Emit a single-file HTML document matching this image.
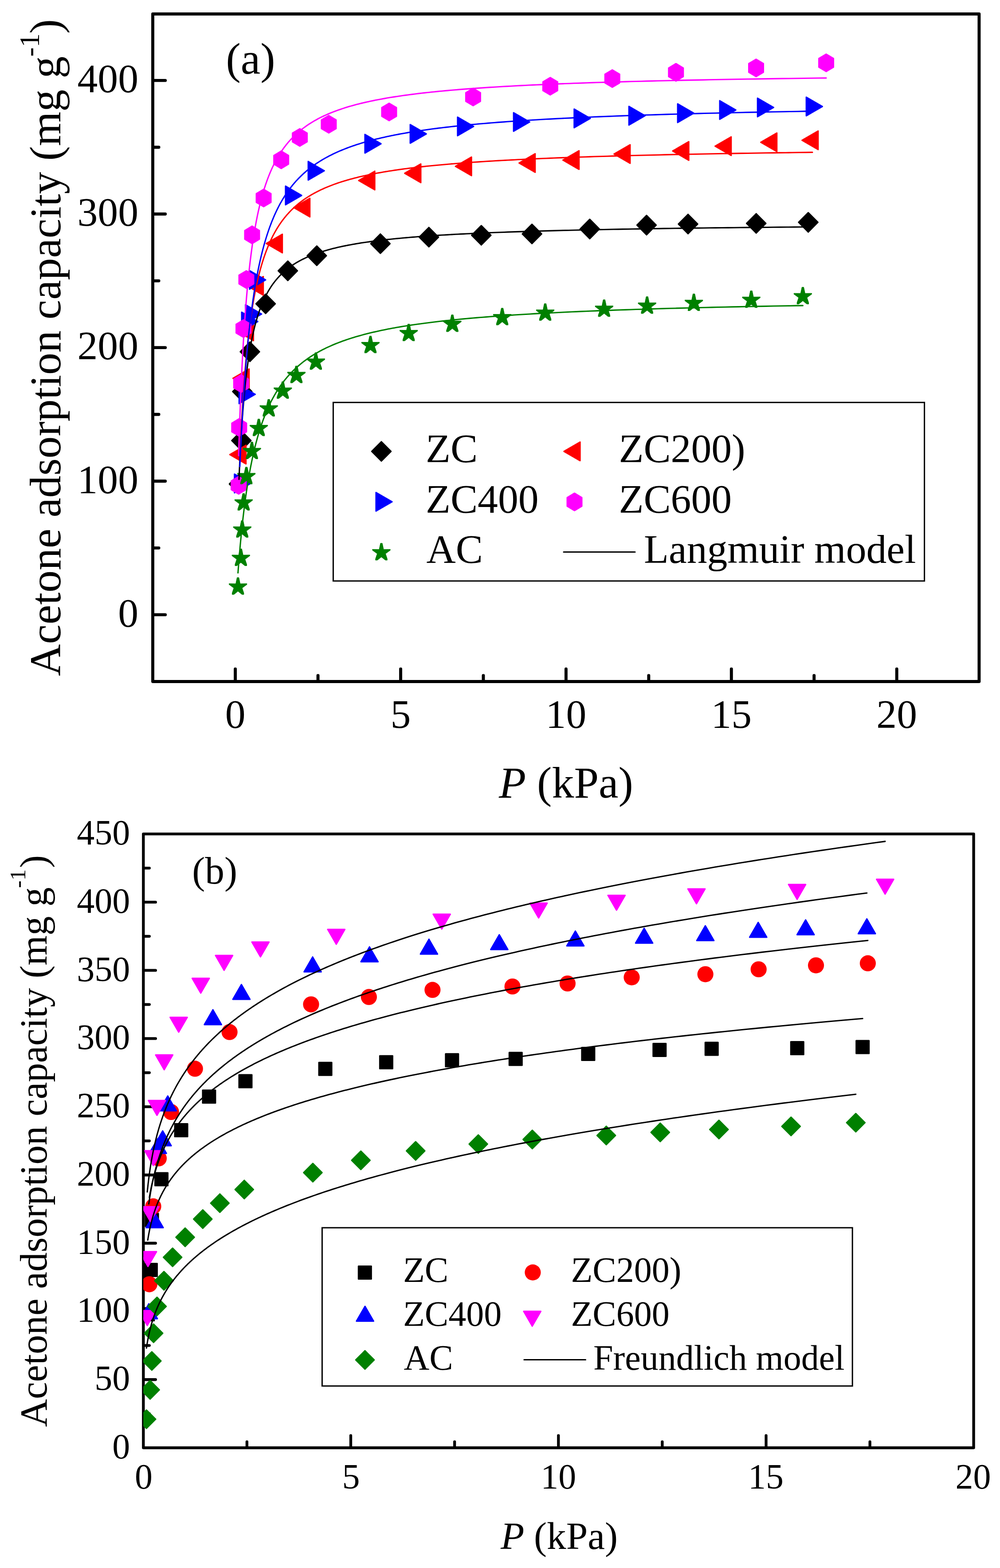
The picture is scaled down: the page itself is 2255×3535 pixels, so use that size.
<!DOCTYPE html>
<html lang="en"><head><meta charset="utf-8"><title>Acetone adsorption isotherms</title>
<style>html,body{margin:0;padding:0;background:#fff;width:2255px;height:3535px;overflow:hidden}svg{display:block}text{font-family:"Liberation Serif",serif;fill:#000}</style>
</head><body>
<svg width="2255" height="3535" viewBox="0 0 2255 3535" role="img" aria-label="Acetone adsorption isotherms with Langmuir (a) and Freundlich (b) model fits">
<rect width="2255" height="3535" fill="#fff"/>
<g id="panel-a">
<g fill="none" stroke="#000" stroke-width="6.9" stroke-linecap="round" stroke-linejoin="round">
<rect x="344.5" y="31.5" width="1863.4" height="1505"/>
<path d="M530.6 1535.5V1508.3M903.5 1535.5V1508.3M1276.4 1535.5V1508.3M1649.3 1535.5V1508.3M2022.2 1535.5V1508.3M717.05 1535.5V1522.9M1089.95 1535.5V1522.9M1462.85 1535.5V1522.9M1835.75 1535.5V1522.9M345.5 1385.9H372.7M345.5 1084.77H372.7M345.5 783.64H372.7M345.5 482.51H372.7M345.5 181.38H372.7M345.5 1235.34H358.1M345.5 934.21H358.1M345.5 633.08H358.1M345.5 331.95H358.1"/>
</g>
<g font-size="91.67">
<text x="530.6" y="1641" text-anchor="middle">0</text>
<text x="903.5" y="1641" text-anchor="middle">5</text>
<text x="1276.4" y="1641" text-anchor="middle">10</text>
<text x="1649.3" y="1641" text-anchor="middle">15</text>
<text x="2022.2" y="1641" text-anchor="middle">20</text>
<text x="312" y="1412.7" text-anchor="end">0</text>
<text x="312" y="1111.57" text-anchor="end">100</text>
<text x="312" y="810.44" text-anchor="end">200</text>
<text x="312" y="509.31" text-anchor="end">300</text>
<text x="312" y="208.18" text-anchor="end">400</text>
</g>
<g id="a-markers">
<g><polygon points="1800.92,501.18 1822.62,479.28 1844.32,501.18 1822.62,523.08" fill="#000000" stroke="#000000" stroke-width="3" stroke-linejoin="round"/><polygon points="1683.54,503.59 1705.24,481.69 1726.94,503.59 1705.24,525.49" fill="#000000" stroke="#000000" stroke-width="3" stroke-linejoin="round"/><polygon points="1529.83,505.09 1551.53,483.19 1573.23,505.09 1551.53,526.99" fill="#000000" stroke="#000000" stroke-width="3" stroke-linejoin="round"/><polygon points="1436.3,507.5 1458,485.6 1479.7,507.5 1458,529.4" fill="#000000" stroke="#000000" stroke-width="3" stroke-linejoin="round"/><polygon points="1308.17,516.24 1329.87,494.34 1351.57,516.24 1329.87,538.14" fill="#000000" stroke="#000000" stroke-width="3" stroke-linejoin="round"/><polygon points="1177.88,527.38 1199.58,505.48 1221.28,527.38 1199.58,549.28" fill="#000000" stroke="#000000" stroke-width="3" stroke-linejoin="round"/><polygon points="1063.63,530.39 1085.33,508.49 1107.03,530.39 1085.33,552.29" fill="#000000" stroke="#000000" stroke-width="3" stroke-linejoin="round"/><polygon points="945.42,534.61 967.12,512.71 988.82,534.61 967.12,556.51" fill="#000000" stroke="#000000" stroke-width="3" stroke-linejoin="round"/><polygon points="836.08,549.36 857.78,527.46 879.48,549.36 857.78,571.26" fill="#000000" stroke="#000000" stroke-width="3" stroke-linejoin="round"/><polygon points="692.67,576.46 714.37,554.56 736.07,576.46 714.37,598.36" fill="#000000" stroke="#000000" stroke-width="3" stroke-linejoin="round"/><polygon points="627.33,610.49 649.03,588.59 670.73,610.49 649.03,632.39" fill="#000000" stroke="#000000" stroke-width="3" stroke-linejoin="round"/><polygon points="577.29,684.87 598.99,662.97 620.69,684.87 598.99,706.77" fill="#000000" stroke="#000000" stroke-width="3" stroke-linejoin="round"/><polygon points="541.79,792.98 563.49,771.08 585.19,792.98 563.49,814.88" fill="#000000" stroke="#000000" stroke-width="3" stroke-linejoin="round"/><polygon points="524.71,882.71 546.41,860.81 568.11,882.71 546.41,904.61" fill="#000000" stroke="#000000" stroke-width="3" stroke-linejoin="round"/><polygon points="522.62,993.23 544.32,971.33 566.02,993.23 544.32,1015.13" fill="#000000" stroke="#000000" stroke-width="3" stroke-linejoin="round"/><polygon points="517.25,1091.09 538.95,1069.19 560.65,1091.09 538.95,1112.99" fill="#000000" stroke="#000000" stroke-width="3" stroke-linejoin="round"/></g>
<g><polygon points="1808.57,316.29 1844.87,295.29 1844.87,337.29" fill="#ff0000" stroke="#ff0000" stroke-width="3" stroke-linejoin="round"/><polygon points="1715.49,320.8 1751.79,299.8 1751.79,341.8" fill="#ff0000" stroke="#ff0000" stroke-width="3" stroke-linejoin="round"/><polygon points="1612.5,329.54 1648.8,308.54 1648.8,350.54" fill="#ff0000" stroke="#ff0000" stroke-width="3" stroke-linejoin="round"/><polygon points="1516.89,340.38 1553.19,319.38 1553.19,361.38" fill="#ff0000" stroke="#ff0000" stroke-width="3" stroke-linejoin="round"/><polygon points="1384.58,347.3 1420.88,326.3 1420.88,368.3" fill="#ff0000" stroke="#ff0000" stroke-width="3" stroke-linejoin="round"/><polygon points="1269.43,360.85 1305.73,339.85 1305.73,381.85" fill="#ff0000" stroke="#ff0000" stroke-width="3" stroke-linejoin="round"/><polygon points="1170.46,367.48 1206.76,346.48 1206.76,388.48" fill="#ff0000" stroke="#ff0000" stroke-width="3" stroke-linejoin="round"/><polygon points="1026.9,375.01 1063.2,354.01 1063.2,396.01" fill="#ff0000" stroke="#ff0000" stroke-width="3" stroke-linejoin="round"/><polygon points="912.64,390.67 948.94,369.67 948.94,411.67" fill="#ff0000" stroke="#ff0000" stroke-width="3" stroke-linejoin="round"/><polygon points="808.82,406.93 845.12,385.93 845.12,427.93" fill="#ff0000" stroke="#ff0000" stroke-width="3" stroke-linejoin="round"/><polygon points="662.42,468.06 698.72,447.06 698.72,489.06" fill="#ff0000" stroke="#ff0000" stroke-width="3" stroke-linejoin="round"/><polygon points="600.37,549.06 636.67,528.06 636.67,570.06" fill="#ff0000" stroke="#ff0000" stroke-width="3" stroke-linejoin="round"/><polygon points="557.41,644.52 593.71,623.52 593.71,665.52" fill="#ff0000" stroke="#ff0000" stroke-width="3" stroke-linejoin="round"/><polygon points="535.26,746.9 571.56,725.9 571.56,767.9" fill="#ff0000" stroke="#ff0000" stroke-width="3" stroke-linejoin="round"/><polygon points="525.42,852.9 561.72,831.9 561.72,873.9" fill="#ff0000" stroke="#ff0000" stroke-width="3" stroke-linejoin="round"/><polygon points="518.41,1024.85 554.71,1003.85 554.71,1045.85" fill="#ff0000" stroke="#ff0000" stroke-width="3" stroke-linejoin="round"/></g>
<g><polygon points="1854.43,240.1 1818.13,219.1 1818.13,261.1" fill="#0000ff" stroke="#0000ff" stroke-width="3" stroke-linejoin="round"/><polygon points="1744.5,242.21 1708.2,221.21 1708.2,263.21" fill="#0000ff" stroke="#0000ff" stroke-width="3" stroke-linejoin="round"/><polygon points="1659.33,247.93 1623.03,226.93 1623.03,268.93" fill="#0000ff" stroke="#0000ff" stroke-width="3" stroke-linejoin="round"/><polygon points="1564.39,255.16 1528.09,234.16 1528.09,276.16" fill="#0000ff" stroke="#0000ff" stroke-width="3" stroke-linejoin="round"/><polygon points="1454.53,260.88 1418.23,239.88 1418.23,281.88" fill="#0000ff" stroke="#0000ff" stroke-width="3" stroke-linejoin="round"/><polygon points="1331.03,266.9 1294.73,245.9 1294.73,287.9" fill="#0000ff" stroke="#0000ff" stroke-width="3" stroke-linejoin="round"/><polygon points="1194.4,275.03 1158.1,254.03 1158.1,296.03" fill="#0000ff" stroke="#0000ff" stroke-width="3" stroke-linejoin="round"/><polygon points="1068.13,284.97 1031.83,263.97 1031.83,305.97" fill="#0000ff" stroke="#0000ff" stroke-width="3" stroke-linejoin="round"/><polygon points="961.34,301.83 925.04,280.83 925.04,322.83" fill="#0000ff" stroke="#0000ff" stroke-width="3" stroke-linejoin="round"/><polygon points="859.24,324.12 822.94,303.12 822.94,345.12" fill="#0000ff" stroke="#0000ff" stroke-width="3" stroke-linejoin="round"/><polygon points="731.33,384.94 695.03,363.94 695.03,405.94" fill="#0000ff" stroke="#0000ff" stroke-width="3" stroke-linejoin="round"/><polygon points="680.17,440.65 643.87,419.65 643.87,461.65" fill="#0000ff" stroke="#0000ff" stroke-width="3" stroke-linejoin="round"/><polygon points="599.03,630.97 562.73,609.97 562.73,651.97" fill="#0000ff" stroke="#0000ff" stroke-width="3" stroke-linejoin="round"/><polygon points="589.93,708.06 553.63,687.06 553.63,729.06" fill="#0000ff" stroke="#0000ff" stroke-width="3" stroke-linejoin="round"/><polygon points="581.28,724.92 544.98,703.92 544.98,745.92" fill="#0000ff" stroke="#0000ff" stroke-width="3" stroke-linejoin="round"/><polygon points="575.53,889.04 539.23,868.04 539.23,910.04" fill="#0000ff" stroke="#0000ff" stroke-width="3" stroke-linejoin="round"/><polygon points="565.02,1089.89 528.72,1068.89 528.72,1110.89" fill="#0000ff" stroke="#0000ff" stroke-width="3" stroke-linejoin="round"/></g>
<g><polygon points="1863.05,122.03 1879.55,131.83 1879.55,151.43 1863.05,161.23 1846.55,151.43 1846.55,131.83" fill="#ff00ff" stroke="#ff00ff" stroke-width="3" stroke-linejoin="round"/><polygon points="1705.01,133.47 1721.51,143.27 1721.51,162.87 1705.01,172.67 1688.51,162.87 1688.51,143.27" fill="#ff00ff" stroke="#ff00ff" stroke-width="3" stroke-linejoin="round"/><polygon points="1524.3,143.41 1540.8,153.21 1540.8,172.81 1524.3,182.61 1507.8,172.81 1507.8,153.21" fill="#ff00ff" stroke="#ff00ff" stroke-width="3" stroke-linejoin="round"/><polygon points="1380.74,157.56 1397.24,167.36 1397.24,186.96 1380.74,196.76 1364.24,186.96 1364.24,167.36" fill="#ff00ff" stroke="#ff00ff" stroke-width="3" stroke-linejoin="round"/><polygon points="1240.83,174.73 1257.33,184.53 1257.33,204.13 1240.83,213.93 1224.33,204.13 1224.33,184.53" fill="#ff00ff" stroke="#ff00ff" stroke-width="3" stroke-linejoin="round"/><polygon points="1066.9,199.12 1083.4,208.92 1083.4,228.52 1066.9,238.32 1050.4,228.52 1050.4,208.92" fill="#ff00ff" stroke="#ff00ff" stroke-width="3" stroke-linejoin="round"/><polygon points="877.47,232.85 893.97,242.65 893.97,262.25 877.47,272.05 860.97,262.25 860.97,242.65" fill="#ff00ff" stroke="#ff00ff" stroke-width="3" stroke-linejoin="round"/><polygon points="741.36,260.55 757.86,270.35 757.86,289.95 741.36,299.75 724.86,289.95 724.86,270.35" fill="#ff00ff" stroke="#ff00ff" stroke-width="3" stroke-linejoin="round"/><polygon points="676.03,290.36 692.53,300.16 692.53,319.76 676.03,329.56 659.53,319.76 659.53,300.16" fill="#ff00ff" stroke="#ff00ff" stroke-width="3" stroke-linejoin="round"/><polygon points="634.12,340.65 650.62,350.45 650.62,370.05 634.12,379.85 617.62,370.05 617.62,350.45" fill="#ff00ff" stroke="#ff00ff" stroke-width="3" stroke-linejoin="round"/><polygon points="594.52,426.77 611.02,436.57 611.02,456.17 594.52,465.97 578.02,456.17 578.02,436.57" fill="#ff00ff" stroke="#ff00ff" stroke-width="3" stroke-linejoin="round"/><polygon points="568.49,509.89 584.99,519.69 584.99,539.29 568.49,549.09 551.99,539.29 551.99,519.69" fill="#ff00ff" stroke="#ff00ff" stroke-width="3" stroke-linejoin="round"/><polygon points="555.51,610.46 572.01,620.26 572.01,639.86 555.51,649.66 539.01,639.86 539.01,620.26" fill="#ff00ff" stroke="#ff00ff" stroke-width="3" stroke-linejoin="round"/><polygon points="549.02,721.28 565.52,731.08 565.52,750.68 549.02,760.48 532.52,750.68 532.52,731.08" fill="#ff00ff" stroke="#ff00ff" stroke-width="3" stroke-linejoin="round"/><polygon points="543.8,845.04 560.3,854.84 560.3,874.44 543.8,884.24 527.3,874.44 527.3,854.84" fill="#ff00ff" stroke="#ff00ff" stroke-width="3" stroke-linejoin="round"/><polygon points="539.33,944.12 555.83,953.92 555.83,973.52 539.33,983.32 522.83,973.52 522.83,953.92" fill="#ff00ff" stroke="#ff00ff" stroke-width="3" stroke-linejoin="round"/><polygon points="538.08,1074.51 554.58,1084.31 554.58,1103.91 538.08,1113.71 521.58,1103.91 521.58,1084.31" fill="#ff00ff" stroke="#ff00ff" stroke-width="3" stroke-linejoin="round"/></g>
<g><polygon points="1808.39,647.42 1812.39,647.42 1815.39,661.43 1830.52,661.19 1830.51,663.15 1819.76,670.98 1823.55,682.26 1823.59,685.53 1819.41,685.48 1810.39,678.28 1801.37,685.48 1797.19,685.53 1797.23,682.26 1801.02,670.98 1790.28,663.15 1790.27,661.19 1805.39,661.43" fill="#008000" stroke="#008000" stroke-width="1" stroke-linejoin="round"/><polygon points="1692.12,655.55 1696.12,655.55 1699.12,669.56 1714.25,669.32 1714.24,671.28 1703.49,679.11 1707.28,690.39 1707.32,693.66 1703.14,693.61 1694.12,686.41 1685.1,693.61 1680.92,693.66 1680.96,690.39 1684.75,679.11 1674.01,671.28 1674,669.32 1689.12,669.56" fill="#008000" stroke="#008000" stroke-width="1" stroke-linejoin="round"/><polygon points="1562.65,662.48 1566.65,662.48 1569.65,676.48 1584.78,676.25 1584.77,678.2 1574.02,686.04 1577.81,697.32 1577.85,700.58 1573.67,700.54 1564.65,693.33 1555.63,700.54 1551.45,700.58 1551.49,697.32 1555.28,686.04 1544.54,678.2 1544.52,676.25 1559.65,676.48" fill="#008000" stroke="#008000" stroke-width="1" stroke-linejoin="round"/><polygon points="1457.19,668.8 1461.2,668.8 1464.2,682.81 1479.32,682.57 1479.31,684.53 1468.57,692.36 1472.35,703.64 1472.39,706.91 1468.22,706.86 1459.2,699.66 1450.18,706.86 1446,706.91 1446.04,703.64 1449.82,692.36 1439.08,684.53 1439.07,682.57 1454.19,682.81" fill="#008000" stroke="#008000" stroke-width="1" stroke-linejoin="round"/><polygon points="1360.31,675.73 1364.32,675.73 1367.32,689.73 1382.44,689.5 1382.43,691.45 1371.69,699.29 1375.48,710.57 1375.51,713.83 1371.34,713.79 1362.32,706.58 1353.3,713.79 1349.12,713.83 1349.16,710.57 1352.94,699.29 1342.2,691.45 1342.19,689.5 1357.32,689.73" fill="#008000" stroke="#008000" stroke-width="1" stroke-linejoin="round"/><polygon points="1227.49,684.46 1231.49,684.46 1234.49,698.47 1249.62,698.23 1249.6,700.19 1238.86,708.02 1242.65,719.3 1242.69,722.57 1238.51,722.52 1229.49,715.32 1220.47,722.52 1216.29,722.57 1216.33,719.3 1220.12,708.02 1209.37,700.19 1209.36,698.23 1224.49,698.47" fill="#008000" stroke="#008000" stroke-width="1" stroke-linejoin="round"/><polygon points="1130.53,694.7 1134.54,694.7 1137.54,708.7 1152.66,708.47 1152.65,710.42 1141.91,718.26 1145.69,729.54 1145.73,732.81 1141.55,732.76 1132.54,725.55 1123.52,732.76 1119.34,732.81 1119.38,729.54 1123.16,718.26 1112.42,710.42 1112.41,708.47 1127.53,708.7" fill="#008000" stroke="#008000" stroke-width="1" stroke-linejoin="round"/><polygon points="1017.99,709.76 1022,709.76 1024.99,723.76 1040.12,723.52 1040.11,725.48 1029.37,733.31 1033.15,744.59 1033.19,747.86 1029.01,747.82 1019.99,740.61 1010.97,747.82 1006.8,747.86 1006.83,744.59 1010.62,733.31 999.88,725.48 999.87,723.52 1014.99,723.76" fill="#008000" stroke="#008000" stroke-width="1" stroke-linejoin="round"/><polygon points="919.62,730.54 923.62,730.54 926.62,744.54 941.75,744.3 941.74,746.26 930.99,754.09 934.78,765.37 934.82,768.64 930.64,768.59 921.62,761.39 912.6,768.59 908.43,768.64 908.46,765.37 912.25,754.09 901.51,746.26 901.5,744.3 916.62,744.54" fill="#008000" stroke="#008000" stroke-width="1" stroke-linejoin="round"/><polygon points="833.41,757.64 837.41,757.64 840.41,771.64 855.54,771.4 855.52,773.36 844.78,781.19 848.57,792.47 848.61,795.74 844.43,795.7 835.41,788.49 826.39,795.7 822.21,795.74 822.25,792.47 826.04,781.19 815.29,773.36 815.28,771.4 830.41,771.64" fill="#008000" stroke="#008000" stroke-width="1" stroke-linejoin="round"/><polygon points="710.28,794.98 714.28,794.98 717.28,808.98 732.4,808.74 732.39,810.7 721.65,818.53 725.44,829.81 725.47,833.08 721.3,833.04 712.28,825.83 703.26,833.04 699.08,833.08 699.12,829.81 702.91,818.53 692.16,810.7 692.15,808.74 707.28,808.98" fill="#008000" stroke="#008000" stroke-width="1" stroke-linejoin="round"/><polygon points="666.42,825.09 670.43,825.09 673.42,839.09 688.55,838.86 688.54,840.81 677.8,848.65 681.58,859.93 681.62,863.19 677.44,863.15 668.42,855.94 659.4,863.15 655.23,863.19 655.26,859.93 659.05,848.65 648.31,840.81 648.3,838.86 663.42,839.09" fill="#008000" stroke="#008000" stroke-width="1" stroke-linejoin="round"/><polygon points="635.77,860.32 639.77,860.32 642.77,874.33 657.9,874.09 657.89,876.05 647.14,883.88 650.93,895.16 650.97,898.43 646.79,898.38 637.77,891.18 628.75,898.38 624.57,898.43 624.61,895.16 628.4,883.88 617.66,876.05 617.64,874.09 632.77,874.33" fill="#008000" stroke="#008000" stroke-width="1" stroke-linejoin="round"/><polygon points="604.07,900.37 608.08,900.37 611.08,914.38 626.2,914.14 626.19,916.1 615.45,923.93 619.23,935.21 619.27,938.48 615.09,938.43 606.07,931.23 597.06,938.43 592.88,938.48 592.92,935.21 596.7,923.93 585.96,916.1 585.95,914.14 601.07,914.38" fill="#008000" stroke="#008000" stroke-width="1" stroke-linejoin="round"/><polygon points="581.55,944.64 585.55,944.64 588.55,958.64 603.68,958.4 603.67,960.36 592.92,968.2 596.71,979.48 596.75,982.74 592.57,982.7 583.55,975.49 574.53,982.7 570.35,982.74 570.39,979.48 574.18,968.2 563.44,960.36 563.42,958.4 578.55,958.64" fill="#008000" stroke="#008000" stroke-width="1" stroke-linejoin="round"/><polygon points="566.04,996.43 570.04,996.43 573.04,1010.44 588.17,1010.2 588.15,1012.16 577.41,1019.99 581.2,1031.27 581.24,1034.54 577.06,1034.49 568.04,1027.29 559.02,1034.49 554.84,1034.54 554.88,1031.27 558.67,1019.99 547.92,1012.16 547.91,1010.2 563.04,1010.44" fill="#008000" stroke="#008000" stroke-width="1" stroke-linejoin="round"/><polygon points="553.58,1053.05 557.59,1053.05 560.59,1067.05 575.71,1066.81 575.7,1068.77 564.96,1076.6 568.74,1087.88 568.78,1091.15 564.6,1091.1 555.58,1083.9 546.56,1091.1 542.39,1091.15 542.43,1087.88 546.21,1076.6 535.47,1068.77 535.46,1066.81 550.58,1067.05" fill="#008000" stroke="#008000" stroke-width="1" stroke-linejoin="round"/><polygon points="547.39,1112.37 551.4,1112.37 554.4,1126.37 569.52,1126.13 569.51,1128.09 558.77,1135.93 562.55,1147.21 562.59,1150.47 558.41,1150.43 549.39,1143.22 540.37,1150.43 536.2,1150.47 536.23,1147.21 540.02,1135.93 529.28,1128.09 529.27,1126.13 544.39,1126.37" fill="#008000" stroke="#008000" stroke-width="1" stroke-linejoin="round"/><polygon points="544.26,1173.5 548.26,1173.5 551.26,1187.5 566.39,1187.26 566.38,1189.22 555.63,1197.05 559.42,1208.33 559.46,1211.6 555.28,1211.56 546.26,1204.35 537.24,1211.56 533.06,1211.6 533.1,1208.33 536.89,1197.05 526.15,1189.22 526.13,1187.26 541.26,1187.5" fill="#008000" stroke="#008000" stroke-width="1" stroke-linejoin="round"/><polygon points="541.2,1237.34 545.21,1237.34 548.2,1251.34 563.33,1251.1 563.32,1253.06 552.58,1260.89 556.36,1272.17 556.4,1275.44 552.22,1275.4 543.2,1268.19 534.18,1275.4 530.01,1275.44 530.04,1272.17 533.83,1260.89 523.09,1253.06 523.08,1251.1 538.2,1251.34" fill="#008000" stroke="#008000" stroke-width="1" stroke-linejoin="round"/><polygon points="534.64,1302.08 538.64,1302.08 541.64,1316.08 556.77,1315.85 556.76,1317.8 546.01,1325.64 549.8,1336.92 549.84,1340.18 545.66,1340.14 536.64,1332.93 527.62,1340.14 523.44,1340.18 523.48,1336.92 527.27,1325.64 516.53,1317.8 516.51,1315.85 531.64,1316.08" fill="#008000" stroke="#008000" stroke-width="1" stroke-linejoin="round"/></g>
</g>
<g id="a-curves">
<polyline fill="none" stroke="#000000" stroke-width="3.1" stroke-linejoin="round" stroke-linecap="round" points="538.95,1080.65 539.06,1078.12 539.17,1075.59 539.27,1073.04 539.38,1070.49 539.5,1067.92 539.61,1065.35 539.72,1062.77 539.84,1060.18 539.96,1057.58 540.07,1054.98 540.2,1052.36 540.32,1049.74 540.44,1047.1 540.56,1044.47 540.69,1041.82 540.82,1039.16 540.95,1036.5 541.08,1033.83 541.21,1031.16 541.35,1028.48 541.48,1025.79 541.62,1023.09 541.76,1020.39 541.9,1017.68 542.05,1014.97 542.19,1012.25 542.34,1009.53 542.49,1006.8 542.64,1004.07 542.79,1001.33 542.95,998.59 543.1,995.84 543.26,993.09 543.42,990.33 543.58,987.57 543.75,984.81 543.92,982.04 544.08,979.28 544.26,976.5 544.43,973.73 544.6,970.95 544.78,968.17 544.96,965.39 545.14,962.61 545.33,959.83 545.52,957.04 545.7,954.26 545.9,951.47 546.09,948.68 546.29,945.89 546.49,943.1 546.69,940.32 546.89,937.53 547.1,934.74 547.31,931.95 547.52,929.17 547.73,926.38 547.95,923.6 548.17,920.81 548.39,918.03 548.62,915.26 548.85,912.48 549.08,909.71 549.31,906.94 549.55,904.17 549.79,901.4 550.03,898.64 550.28,895.88 550.53,893.13 550.78,890.38 551.04,887.63 551.3,884.89 551.56,882.15 551.83,879.42 552.1,876.69 552.37,873.97 552.64,871.25 552.92,868.54 553.21,865.83 553.49,863.13 553.78,860.44 554.08,857.75 554.38,855.07 554.68,852.4 554.98,849.73 555.29,847.07 555.61,844.42 555.92,841.77 556.24,839.13 556.57,836.5 556.9,833.88 557.23,831.27 557.57,828.66 557.91,826.07 558.26,823.48 558.61,820.9 558.96,818.33 559.32,815.77 559.69,813.22 560.06,810.67 560.43,808.14 560.81,805.62 561.19,803.1 561.58,800.6 561.97,798.11 562.37,795.62 562.77,793.15 563.18,790.69 563.6,788.24 564.01,785.8 564.44,783.37 564.87,780.95 565.3,778.54 565.74,776.15 566.19,773.76 566.64,771.39 567.1,769.03 567.56,766.68 568.03,764.34 568.5,762.02 568.98,759.7 569.47,757.4 569.96,755.11 570.46,752.83 570.97,750.57 571.48,748.31 572,746.07 572.52,743.85 573.06,741.63 573.59,739.43 574.14,737.24 574.69,735.06 575.25,732.9 575.82,730.75 576.39,728.61 576.97,726.48 577.56,724.37 578.15,722.27 578.76,720.19 579.37,718.11 579.99,716.05 580.61,714.01 581.25,711.98 581.89,709.96 582.54,707.95 583.2,705.96 583.87,703.98 584.54,702.01 585.23,700.06 585.92,698.12 586.62,696.2 587.33,694.29 588.05,692.39 588.78,690.5 589.52,688.63 590.26,686.77 591.02,684.93 591.79,683.1 592.56,681.28 593.35,679.48 594.15,677.69 594.95,675.91 595.77,674.15 596.59,672.4 597.43,670.66 598.28,668.94 599.14,667.23 600.01,665.54 600.89,663.85 601.78,662.19 602.68,660.53 603.6,658.89 604.52,657.26 605.46,655.64 606.41,654.04 607.37,652.45 608.34,650.87 609.33,649.31 610.33,647.76 611.34,646.22 612.36,644.7 613.4,643.18 614.45,641.69 615.51,640.2 616.59,638.73 617.68,637.27 618.79,635.82 619.9,634.38 621.04,632.96 622.18,631.55 623.35,630.15 624.52,628.77 625.71,627.4 626.92,626.04 628.14,624.69 629.38,623.35 630.63,622.03 631.9,620.72 633.18,619.42 634.49,618.13 635.8,616.85 637.14,615.59 638.49,614.34 639.86,613.09 641.24,611.87 642.65,610.65 644.07,609.44 645.51,608.25 646.96,607.06 648.44,605.89 649.93,604.73 651.45,603.58 652.98,602.44 654.53,601.31 656.1,600.2 657.7,599.09 659.31,598 660.94,596.91 662.59,595.84 664.27,594.78 665.96,593.72 667.68,592.68 669.42,591.65 671.18,590.63 672.96,589.62 674.77,588.61 676.6,587.62 678.45,586.64 680.32,585.67 682.22,584.71 684.15,583.76 686.09,582.82 688.06,581.88 690.06,580.96 692.08,580.05 694.13,579.14 696.21,578.25 698.31,577.36 700.43,576.49 702.59,575.62 704.77,574.76 706.98,573.91 709.22,573.07 711.48,572.24 713.78,571.42 716.1,570.61 718.45,569.8 720.83,569 723.25,568.22 725.69,567.44 728.16,566.66 730.67,565.9 733.21,565.15 735.78,564.4 738.38,563.66 741.01,562.93 743.68,562.21 746.39,561.49 749.12,560.78 751.89,560.08 754.7,559.39 757.54,558.7 760.42,558.03 763.34,557.36 766.29,556.69 769.28,556.04 772.3,555.39 775.37,554.75 778.47,554.12 781.62,553.49 784.8,552.87 788.03,552.25 791.29,551.65 794.6,551.05 797.95,550.46 801.34,549.87 804.77,549.29 808.25,548.72 811.77,548.15 815.34,547.59 818.95,547.03 822.6,546.48 826.31,545.94 830.06,545.41 833.86,544.88 837.7,544.35 841.6,543.83 845.54,543.32 849.54,542.82 853.58,542.32 857.68,541.82 861.83,541.33 866.03,540.85 870.28,540.37 874.59,539.9 878.95,539.43 883.37,538.97 887.84,538.51 892.38,538.06 896.96,537.61 901.61,537.17 906.32,536.74 911.08,536.3 915.91,535.88 920.79,535.46 925.74,535.04 930.75,534.63 935.83,534.22 940.97,533.82 946.17,533.42 951.45,533.03 956.78,532.64 962.19,532.26 967.66,531.88 973.21,531.5 978.82,531.13 984.5,530.77 990.26,530.41 996.09,530.05 1001.99,529.69 1007.97,529.35 1014.03,529 1020.16,528.66 1026.37,528.32 1032.66,527.99 1039.02,527.66 1045.47,527.33 1052,527.01 1058.62,526.69 1065.31,526.38 1072.09,526.07 1078.96,525.76 1085.92,525.46 1092.96,525.16 1100.09,524.87 1107.32,524.57 1114.63,524.28 1122.04,524 1129.54,523.72 1137.14,523.44 1144.83,523.16 1152.62,522.89 1160.51,522.62 1168.5,522.36 1176.59,522.09 1184.78,521.83 1193.08,521.58 1201.48,521.32 1209.99,521.07 1218.61,520.83 1227.33,520.58 1236.17,520.34 1245.12,520.1 1254.18,519.87 1263.36,519.63 1272.65,519.4 1282.06,519.18 1291.59,518.95 1301.24,518.73 1311.02,518.51 1320.92,518.3 1330.94,518.08 1341.09,517.87 1351.37,517.66 1361.78,517.45 1372.32,517.25 1383,517.05 1393.81,516.85 1404.76,516.65 1415.84,516.46 1427.07,516.27 1438.44,516.08 1449.96,515.89 1461.62,515.71 1473.43,515.52 1485.38,515.34 1497.49,515.17 1509.76,514.99 1522.17,514.82 1534.75,514.64 1547.49,514.47 1560.38,514.31 1573.45,514.14 1586.67,513.98 1600.07,513.82 1613.63,513.66 1627.37,513.5 1641.28,513.34 1655.36,513.19 1669.63,513.04 1684.08,512.89 1698.71,512.74 1713.52,512.59 1728.52,512.45 1743.72,512.3 1759.1,512.16 1774.68,512.02 1790.46,511.88 1806.44,511.75 1822.62,511.61"/>
<polyline fill="none" stroke="#ff0000" stroke-width="3.1" stroke-linejoin="round" stroke-linecap="round" points="541.81,1009.5 541.94,1006.61 542.08,1003.72 542.22,1000.81 542.36,997.89 542.5,994.96 542.64,992.03 542.78,989.08 542.93,986.13 543.07,983.17 543.22,980.2 543.38,977.22 543.53,974.23 543.68,971.24 543.84,968.24 544,965.23 544.16,962.21 544.32,959.19 544.48,956.15 544.65,953.12 544.82,950.07 544.99,947.02 545.16,943.96 545.33,940.9 545.51,937.83 545.69,934.76 545.87,931.68 546.05,928.59 546.24,925.5 546.42,922.41 546.61,919.31 546.8,916.2 547,913.09 547.19,909.98 547.39,906.87 547.59,903.75 547.8,900.62 548,897.5 548.21,894.37 548.42,891.24 548.63,888.1 548.85,884.97 549.07,881.83 549.29,878.69 549.51,875.55 549.74,872.41 549.97,869.26 550.2,866.12 550.43,862.97 550.67,859.83 550.91,856.68 551.15,853.53 551.4,850.39 551.65,847.24 551.9,844.1 552.15,840.95 552.41,837.81 552.67,834.67 552.93,831.53 553.2,828.39 553.47,825.25 553.75,822.12 554.02,818.99 554.3,815.86 554.59,812.73 554.87,809.61 555.16,806.49 555.46,803.37 555.75,800.26 556.05,797.15 556.36,794.05 556.67,790.95 556.98,787.85 557.29,784.76 557.61,781.68 557.94,778.6 558.26,775.52 558.59,772.45 558.93,769.39 559.27,766.33 559.61,763.28 559.96,760.23 560.31,757.19 560.66,754.16 561.02,751.14 561.39,748.12 561.75,745.11 562.13,742.1 562.5,739.11 562.89,736.12 563.27,733.14 563.66,730.17 564.06,727.21 564.46,724.25 564.86,721.31 565.27,718.37 565.69,715.45 566.11,712.53 566.53,709.62 566.96,706.72 567.39,703.83 567.83,700.95 568.28,698.08 568.73,695.22 569.19,692.37 569.65,689.53 570.11,686.71 570.59,683.89 571.07,681.08 571.55,678.29 572.04,675.5 572.53,672.73 573.04,669.97 573.54,667.22 574.06,664.48 574.58,661.76 575.1,659.04 575.63,656.34 576.17,653.65 576.72,650.97 577.27,648.31 577.83,645.65 578.39,643.01 578.96,640.38 579.54,637.77 580.13,635.17 580.72,632.58 581.32,630 581.92,627.44 582.54,624.89 583.16,622.35 583.79,619.82 584.42,617.31 585.07,614.82 585.72,612.33 586.38,609.86 587.04,607.41 587.72,604.96 588.4,602.53 589.09,600.12 589.79,597.72 590.5,595.33 591.22,592.96 591.94,590.6 592.67,588.25 593.42,585.92 594.17,583.6 594.93,581.3 595.7,579.01 596.48,576.74 597.26,574.48 598.06,572.23 598.87,570 599.68,567.78 600.51,565.58 601.35,563.39 602.19,561.22 603.05,559.06 603.91,556.91 604.79,554.78 605.68,552.66 606.58,550.56 607.48,548.47 608.4,546.4 609.33,544.34 610.27,542.29 611.23,540.26 612.19,538.25 613.17,536.25 614.15,534.26 615.15,532.29 616.16,530.33 617.19,528.38 618.22,526.45 619.27,524.54 620.33,522.63 621.4,520.75 622.49,518.87 623.59,517.01 624.7,515.17 625.82,513.34 626.96,511.52 628.12,509.72 629.28,507.93 630.46,506.15 631.66,504.39 632.86,502.64 634.09,500.91 635.32,499.19 636.58,497.49 637.84,495.79 639.13,494.11 640.42,492.45 641.74,490.8 643.07,489.16 644.41,487.54 645.77,485.92 647.15,484.33 648.54,482.74 649.95,481.17 651.38,479.61 652.82,478.07 654.28,476.54 655.76,475.02 657.26,473.51 658.77,472.02 660.31,470.54 661.86,469.07 663.43,467.62 665.02,466.18 666.62,464.75 668.25,463.33 669.89,461.92 671.56,460.53 673.25,459.15 674.95,457.79 676.68,456.43 678.42,455.09 680.19,453.76 681.98,452.44 683.79,451.13 685.62,449.83 687.48,448.55 689.35,447.28 691.25,446.02 693.17,444.77 695.11,443.53 697.08,442.31 699.07,441.09 701.09,439.89 703.13,438.7 705.19,437.52 707.28,436.35 709.39,435.19 711.53,434.04 713.69,432.9 715.88,431.78 718.09,430.66 720.34,429.56 722.6,428.46 724.9,427.38 727.22,426.3 729.57,425.24 731.95,424.19 734.36,423.14 736.8,422.11 739.26,421.09 741.76,420.08 744.28,419.07 746.84,418.08 749.42,417.1 752.04,416.12 754.69,415.16 757.37,414.2 760.08,413.26 762.82,412.32 765.6,411.4 768.41,410.48 771.25,409.57 774.13,408.67 777.04,407.78 779.99,406.9 782.97,406.03 785.99,405.17 789.04,404.31 792.13,403.46 795.26,402.63 798.42,401.8 801.63,400.98 804.87,400.16 808.15,399.36 811.46,398.56 814.82,397.78 818.22,397 821.66,396.23 825.14,395.46 828.66,394.71 832.23,393.96 835.83,393.22 839.48,392.48 843.18,391.76 846.91,391.04 850.69,390.33 854.52,389.63 858.4,388.93 862.31,388.25 866.28,387.56 870.29,386.89 874.36,386.22 878.47,385.56 882.63,384.91 886.84,384.27 891.1,383.63 895.41,382.99 899.77,382.37 904.18,381.75 908.65,381.14 913.17,380.53 917.74,379.93 922.37,379.34 927.06,378.75 931.8,378.17 936.59,377.6 941.45,377.03 946.36,376.47 951.33,375.91 956.36,375.36 961.45,374.82 966.61,374.28 971.82,373.74 977.09,373.22 982.43,372.7 987.84,372.18 993.3,371.67 998.84,371.17 1004.43,370.67 1010.1,370.17 1015.83,369.69 1021.64,369.2 1027.51,368.73 1033.45,368.25 1039.46,367.79 1045.54,367.32 1051.7,366.87 1057.93,366.41 1064.24,365.97 1070.62,365.52 1077.08,365.09 1083.61,364.65 1090.22,364.23 1096.91,363.8 1103.69,363.39 1110.54,362.97 1117.47,362.56 1124.49,362.16 1131.59,361.76 1138.78,361.36 1146.05,360.97 1153.41,360.58 1160.85,360.2 1168.39,359.82 1176.02,359.45 1183.73,359.08 1191.54,358.71 1199.45,358.35 1207.44,357.99 1215.54,357.63 1223.73,357.28 1232.01,356.94 1240.4,356.6 1248.89,356.26 1257.48,355.92 1266.17,355.59 1274.96,355.26 1283.86,354.94 1292.87,354.62 1301.98,354.3 1311.21,353.99 1320.54,353.68 1329.99,353.38 1339.54,353.07 1349.22,352.77 1359,352.48 1368.91,352.19 1378.93,351.9 1389.08,351.61 1399.34,351.33 1409.73,351.05 1420.24,350.77 1430.88,350.5 1441.64,350.23 1452.54,349.96 1463.56,349.7 1474.72,349.44 1486,349.18 1497.43,348.92 1508.99,348.67 1520.69,348.42 1532.53,348.17 1544.51,347.93 1556.63,347.69 1568.9,347.45 1581.31,347.22 1593.87,346.98 1606.59,346.75 1619.45,346.53 1632.47,346.3 1645.65,346.08 1658.98,345.86 1672.47,345.64 1686.13,345.43 1699.94,345.21 1713.92,345 1728.07,344.79 1742.39,344.59 1756.88,344.39 1771.54,344.19 1786.38,343.99 1801.4,343.79 1816.59,343.6 1831.97,343.41"/>
<polyline fill="none" stroke="#0000ff" stroke-width="3.1" stroke-linejoin="round" stroke-linecap="round" points="540.82,1051.85 540.94,1048.97 541.07,1046.07 541.2,1043.15 541.32,1040.22 541.46,1037.28 541.59,1034.32 541.72,1031.35 541.86,1028.36 541.99,1025.36 542.13,1022.35 542.27,1019.32 542.42,1016.28 542.56,1013.22 542.71,1010.16 542.85,1007.08 543,1003.98 543.15,1000.88 543.31,997.76 543.46,994.63 543.62,991.48 543.78,988.33 543.94,985.16 544.1,981.98 544.27,978.79 544.43,975.59 544.6,972.37 544.77,969.15 544.94,965.91 545.12,962.67 545.3,959.41 545.47,956.14 545.66,952.86 545.84,949.57 546.02,946.28 546.21,942.97 546.4,939.65 546.6,936.33 546.79,932.99 546.99,929.65 547.19,926.3 547.39,922.94 547.59,919.57 547.8,916.19 548.01,912.81 548.22,909.41 548.44,906.01 548.66,902.61 548.88,899.19 549.1,895.78 549.32,892.35 549.55,888.92 549.78,885.48 550.02,882.04 550.25,878.59 550.49,875.13 550.74,871.67 550.98,868.21 551.23,864.74 551.48,861.27 551.74,857.79 551.99,854.31 552.25,850.83 552.52,847.34 552.78,843.85 553.06,840.36 553.33,836.87 553.61,833.37 553.89,829.87 554.17,826.37 554.46,822.87 554.75,819.37 555.04,815.86 555.34,812.36 555.64,808.85 555.95,805.35 556.26,801.85 556.57,798.34 556.89,794.84 557.21,791.33 557.53,787.83 557.86,784.33 558.19,780.83 558.53,777.34 558.87,773.84 559.21,770.35 559.56,766.86 559.91,763.38 560.27,759.89 560.63,756.41 561,752.94 561.37,749.47 561.74,746 562.12,742.54 562.51,739.08 562.9,735.62 563.29,732.18 563.69,728.73 564.09,725.29 564.5,721.86 564.91,718.44 565.33,715.02 565.75,711.61 566.18,708.2 566.62,704.8 567.06,701.41 567.5,698.03 567.95,694.65 568.41,691.28 568.87,687.92 569.33,684.57 569.8,681.23 570.28,677.9 570.77,674.57 571.26,671.25 571.75,667.95 572.25,664.65 572.76,661.36 573.27,658.09 573.79,654.82 574.32,651.56 574.85,648.32 575.39,645.08 575.94,641.86 576.49,638.65 577.05,635.45 577.62,632.26 578.19,629.08 578.77,625.91 579.36,622.76 579.95,619.61 580.55,616.49 581.16,613.37 581.78,610.26 582.4,607.17 583.03,604.09 583.67,601.03 584.32,597.97 584.97,594.93 585.64,591.91 586.31,588.89 586.99,585.9 587.67,582.91 588.37,579.94 589.07,576.98 589.79,574.04 590.51,571.11 591.24,568.2 591.98,565.3 592.72,562.42 593.48,559.55 594.25,556.69 595.02,553.85 595.81,551.03 596.6,548.22 597.41,545.42 598.22,542.64 599.05,539.88 599.88,537.13 600.72,534.4 601.58,531.68 602.44,528.98 603.32,526.29 604.21,523.62 605.1,520.97 606.01,518.33 606.93,515.7 607.86,513.1 608.8,510.51 609.76,507.93 610.72,505.37 611.7,502.83 612.69,500.3 613.69,497.79 614.7,495.3 615.72,492.82 616.76,490.36 617.81,487.92 618.87,485.49 619.95,483.07 621.04,480.68 622.14,478.3 623.26,475.93 624.39,473.59 625.53,471.26 626.69,468.94 627.86,466.64 629.04,464.36 630.24,462.09 631.46,459.85 632.69,457.61 633.93,455.4 635.19,453.2 636.47,451.01 637.76,448.84 639.06,446.69 640.38,444.56 641.72,442.44 643.08,440.33 644.45,438.25 645.83,436.17 647.24,434.12 648.66,432.08 650.1,430.06 651.56,428.05 653.03,426.06 654.52,424.08 656.03,422.12 657.56,420.18 659.11,418.25 660.67,416.34 662.26,414.44 663.86,412.56 665.49,410.69 667.13,408.84 668.8,407.01 670.48,405.19 672.19,403.38 673.91,401.59 675.66,399.82 677.43,398.06 679.22,396.32 681.03,394.59 682.86,392.87 684.72,391.17 686.6,389.49 688.5,387.82 690.42,386.16 692.37,384.52 694.34,382.89 696.34,381.28 698.36,379.68 700.4,378.1 702.47,376.53 704.57,374.97 706.69,373.43 708.83,371.91 711,370.39 713.2,368.89 715.43,367.41 717.68,365.93 719.96,364.47 722.27,363.03 724.6,361.6 726.97,360.18 729.36,358.77 731.79,357.38 734.24,356 736.72,354.63 739.23,353.28 741.77,351.94 744.35,350.61 746.95,349.3 749.59,347.99 752.26,346.7 754.96,345.42 757.7,344.16 760.46,342.91 763.26,341.66 766.1,340.44 768.97,339.22 771.88,338.01 774.82,336.82 777.79,335.64 780.81,334.47 783.86,333.31 786.94,332.16 790.07,331.02 793.23,329.9 796.43,328.79 799.67,327.68 802.95,326.59 806.27,325.51 809.63,324.44 813.03,323.38 816.47,322.33 819.96,321.3 823.48,320.27 827.05,319.25 830.67,318.25 834.32,317.25 838.02,316.26 841.77,315.29 845.56,314.32 849.4,313.37 853.29,312.42 857.22,311.48 861.2,310.56 865.23,309.64 869.31,308.73 873.44,307.83 877.62,306.94 881.85,306.06 886.13,305.19 890.46,304.33 894.85,303.48 899.29,302.64 903.78,301.8 908.33,300.98 912.93,300.16 917.59,299.35 922.31,298.55 927.08,297.76 931.91,296.98 936.81,296.2 941.76,295.44 946.77,294.68 951.84,293.93 956.97,293.19 962.17,292.45 967.43,291.73 972.75,291.01 978.14,290.3 983.6,289.59 989.12,288.9 994.71,288.21 1000.36,287.53 1006.09,286.86 1011.88,286.19 1017.75,285.53 1023.69,284.88 1029.7,284.24 1035.78,283.6 1041.94,282.97 1048.17,282.34 1054.48,281.73 1060.86,281.12 1067.33,280.51 1073.87,279.92 1080.49,279.33 1087.19,278.74 1093.98,278.17 1100.84,277.59 1107.79,277.03 1114.83,276.47 1121.95,275.92 1129.15,275.37 1136.45,274.83 1143.83,274.3 1151.31,273.77 1158.87,273.25 1166.53,272.73 1174.28,272.22 1182.13,271.72 1190.07,271.22 1198.1,270.72 1206.24,270.23 1214.48,269.75 1222.81,269.27 1231.25,268.8 1239.79,268.34 1248.43,267.87 1257.18,267.42 1266.03,266.97 1275,266.52 1284.07,266.08 1293.25,265.64 1302.55,265.21 1311.96,264.78 1321.48,264.36 1331.12,263.95 1340.88,263.53 1350.75,263.13 1360.75,262.72 1370.87,262.33 1381.11,261.93 1391.47,261.54 1401.97,261.16 1412.59,260.78 1423.34,260.4 1434.22,260.03 1445.23,259.66 1456.38,259.3 1467.66,258.94 1479.08,258.58 1490.64,258.23 1502.34,257.89 1514.19,257.54 1526.17,257.2 1538.31,256.87 1550.59,256.54 1563.02,256.21 1575.61,255.88 1588.34,255.56 1601.23,255.25 1614.28,254.93 1627.49,254.63 1640.86,254.32 1654.39,254.02 1668.09,253.72 1681.95,253.42 1695.98,253.13 1710.19,252.84 1724.57,252.56 1739.12,252.28 1753.85,252 1768.76,251.72 1783.85,251.45 1799.12,251.18 1814.58,250.91 1830.23,250.65"/>
<polyline fill="none" stroke="#ff00ff" stroke-width="3.1" stroke-linejoin="round" stroke-linecap="round" points="538.08,1027.33 538.18,1024.03 538.28,1020.72 538.38,1017.39 538.48,1014.04 538.58,1010.67 538.69,1007.29 538.79,1003.89 538.9,1000.47 539.01,997.04 539.12,993.59 539.23,990.13 539.34,986.65 539.45,983.15 539.57,979.64 539.69,976.11 539.8,972.57 539.92,969.01 540.05,965.43 540.17,961.85 540.29,958.25 540.42,954.63 540.55,951 540.68,947.36 540.81,943.7 540.94,940.03 541.08,936.35 541.21,932.65 541.35,928.94 541.49,925.22 541.63,921.49 541.78,917.74 541.92,913.99 542.07,910.22 542.22,906.44 542.37,902.65 542.53,898.85 542.68,895.04 542.84,891.22 543,887.4 543.16,883.56 543.32,879.71 543.49,875.85 543.66,871.99 543.83,868.12 544,864.24 544.18,860.35 544.35,856.45 544.53,852.55 544.71,848.64 544.9,844.73 545.08,840.81 545.27,836.88 545.46,832.95 545.66,829.01 545.85,825.07 546.05,821.13 546.25,817.18 546.46,813.22 546.67,809.27 546.88,805.31 547.09,801.34 547.3,797.38 547.52,793.41 547.74,789.44 547.96,785.47 548.19,781.5 548.42,777.53 548.65,773.56 548.89,769.58 549.13,765.61 549.37,761.64 549.61,757.67 549.86,753.7 550.11,749.73 550.37,745.76 550.62,741.8 550.89,737.84 551.15,733.88 551.42,729.92 551.69,725.97 551.96,722.03 552.24,718.08 552.53,714.14 552.81,710.21 553.1,706.28 553.39,702.36 553.69,698.44 553.99,694.53 554.3,690.62 554.61,686.72 554.92,682.83 555.24,678.95 555.56,675.07 555.88,671.21 556.21,667.35 556.55,663.49 556.89,659.65 557.23,655.82 557.58,652 557.93,648.18 558.28,644.38 558.65,640.58 559.01,636.8 559.38,633.03 559.76,629.27 560.14,625.52 560.52,621.78 560.91,618.05 561.31,614.34 561.71,610.64 562.11,606.95 562.52,603.27 562.94,599.61 563.36,595.96 563.79,592.32 564.22,588.7 564.66,585.09 565.11,581.5 565.56,577.92 566.01,574.35 566.47,570.8 566.94,567.27 567.41,563.75 567.89,560.25 568.38,556.76 568.87,553.29 569.37,549.83 569.88,546.39 570.39,542.97 570.91,539.56 571.44,536.17 571.97,532.79 572.51,529.44 573.05,526.1 573.61,522.78 574.17,519.47 574.74,516.19 575.31,512.92 575.9,509.67 576.49,506.43 577.08,503.22 577.69,500.02 578.3,496.84 578.93,493.68 579.56,490.54 580.2,487.42 580.84,484.31 581.5,481.23 582.16,478.16 582.83,475.12 583.51,472.09 584.2,469.08 584.9,466.09 585.61,463.12 586.33,460.17 587.06,457.24 587.79,454.32 588.54,451.43 589.29,448.56 590.06,445.71 590.83,442.87 591.62,440.06 592.42,437.26 593.22,434.49 594.04,431.73 594.87,429 595.7,426.28 596.55,423.59 597.41,420.91 598.28,418.26 599.17,415.62 600.06,413 600.97,410.41 601.88,407.83 602.81,405.27 603.75,402.74 604.71,400.22 605.68,397.72 606.65,395.24 607.65,392.79 608.65,390.35 609.67,387.93 610.7,385.53 611.74,383.15 612.8,380.79 613.87,378.45 614.96,376.13 616.06,373.82 617.17,371.54 618.3,369.28 619.45,367.03 620.61,364.81 621.78,362.6 622.97,360.42 624.17,358.25 625.39,356.1 626.63,353.97 627.88,351.86 629.15,349.76 630.44,347.69 631.74,345.63 633.06,343.6 634.39,341.58 635.75,339.58 637.12,337.59 638.51,335.63 639.91,333.68 641.34,331.75 642.78,329.84 644.25,327.95 645.73,326.08 647.23,324.22 648.75,322.38 650.29,320.56 651.85,318.75 653.43,316.96 655.03,315.19 656.66,313.44 658.3,311.7 659.97,309.98 661.65,308.28 663.36,306.59 665.09,304.92 666.85,303.27 668.62,301.63 670.42,300.01 672.25,298.41 674.1,296.82 675.97,295.25 677.86,293.69 679.78,292.15 681.73,290.62 683.7,289.11 685.7,287.62 687.72,286.14 689.77,284.67 691.84,283.22 693.94,281.79 696.07,280.37 698.23,278.96 700.42,277.57 702.63,276.19 704.88,274.83 707.15,273.48 709.45,272.15 711.78,270.83 714.15,269.52 716.54,268.23 718.97,266.95 721.42,265.69 723.91,264.44 726.43,263.2 728.98,261.98 731.57,260.77 734.19,259.57 736.85,258.38 739.54,257.21 742.26,256.05 745.02,254.9 747.82,253.77 750.65,252.64 753.52,251.53 756.43,250.44 759.37,249.35 762.36,248.28 765.38,247.21 768.44,246.16 771.54,245.13 774.68,244.1 777.87,243.08 781.09,242.08 784.36,241.08 787.67,240.1 791.02,239.13 794.41,238.17 797.85,237.22 801.34,236.28 804.87,235.35 808.45,234.43 812.07,233.53 815.74,232.63 819.46,231.74 823.23,230.87 827.04,230 830.91,229.14 834.82,228.29 838.79,227.46 842.81,226.63 846.88,225.81 851.01,225 855.18,224.2 859.42,223.41 863.7,222.63 868.05,221.86 872.45,221.09 876.91,220.34 881.42,219.59 886,218.85 890.63,218.13 895.33,217.41 900.08,216.69 904.9,215.99 909.78,215.3 914.73,214.61 919.74,213.93 924.81,213.26 929.95,212.59 935.16,211.94 940.44,211.29 945.78,210.65 951.19,210.02 956.68,209.39 962.24,208.78 967.86,208.17 973.57,207.56 979.34,206.97 985.19,206.38 991.12,205.8 997.13,205.22 1003.21,204.65 1009.37,204.09 1015.62,203.54 1021.94,202.99 1028.35,202.45 1034.84,201.91 1041.42,201.38 1048.08,200.86 1054.83,200.35 1061.66,199.84 1068.59,199.33 1075.6,198.83 1082.71,198.34 1089.91,197.86 1097.2,197.38 1104.59,196.9 1112.08,196.44 1119.66,195.97 1127.34,195.52 1135.12,195.06 1143.01,194.62 1150.99,194.18 1159.08,193.74 1167.28,193.31 1175.58,192.89 1183.99,192.47 1192.51,192.05 1201.15,191.65 1209.89,191.24 1218.75,190.84 1227.72,190.45 1236.81,190.06 1246.02,189.67 1255.35,189.29 1264.8,188.92 1274.38,188.55 1284.08,188.18 1293.9,187.82 1303.86,187.46 1313.94,187.11 1324.16,186.76 1334.5,186.41 1344.99,186.07 1355.61,185.74 1366.37,185.41 1377.26,185.08 1388.31,184.75 1399.49,184.43 1410.82,184.12 1422.3,183.81 1433.93,183.5 1445.71,183.19 1457.64,182.89 1469.73,182.6 1481.98,182.3 1494.38,182.01 1506.95,181.73 1519.68,181.45 1532.58,181.17 1545.65,180.89 1558.88,180.62 1572.29,180.35 1585.88,180.09 1599.64,179.82 1613.58,179.57 1627.7,179.31 1642.01,179.06 1656.5,178.81 1671.19,178.56 1686.06,178.32 1701.13,178.08 1716.39,177.84 1731.85,177.61 1747.52,177.38 1763.39,177.15 1779.47,176.93 1795.75,176.7 1812.25,176.48 1828.96,176.27 1845.89,176.05 1863.05,175.84"/>
<polyline fill="none" stroke="#008000" stroke-width="3.1" stroke-linejoin="round" stroke-linecap="round" points="536.64,1291.57 536.72,1290.46 536.8,1289.35 536.89,1288.22 536.97,1287.09 537.06,1285.94 537.15,1284.78 537.23,1283.62 537.32,1282.43 537.41,1281.24 537.51,1280.04 537.6,1278.83 537.69,1277.6 537.79,1276.36 537.89,1275.11 537.98,1273.85 538.08,1272.58 538.19,1271.3 538.29,1270 538.39,1268.69 538.5,1267.37 538.6,1266.04 538.71,1264.7 538.82,1263.34 538.93,1261.98 539.04,1260.6 539.16,1259.21 539.27,1257.8 539.39,1256.39 539.51,1254.96 539.63,1253.52 539.75,1252.07 539.87,1250.6 540,1249.13 540.12,1247.64 540.25,1246.14 540.38,1244.62 540.51,1243.1 540.65,1241.56 540.78,1240.01 540.92,1238.44 541.06,1236.87 541.2,1235.28 541.34,1233.68 541.49,1232.07 541.64,1230.44 541.78,1228.8 541.93,1227.15 542.09,1225.49 542.24,1223.82 542.4,1222.13 542.56,1220.43 542.72,1218.72 542.88,1217 543.05,1215.26 543.22,1213.51 543.39,1211.75 543.56,1209.98 543.73,1208.19 543.91,1206.39 544.09,1204.59 544.27,1202.76 544.46,1200.93 544.64,1199.09 544.83,1197.23 545.02,1195.36 545.22,1193.48 545.42,1191.59 545.62,1189.68 545.82,1187.77 546.02,1185.84 546.23,1183.9 546.44,1181.95 546.65,1179.99 546.87,1178.01 547.09,1176.03 547.31,1174.03 547.54,1172.03 547.77,1170.01 548,1167.98 548.23,1165.95 548.47,1163.9 548.71,1161.84 548.96,1159.77 549.2,1157.69 549.45,1155.59 549.71,1153.49 549.97,1151.38 550.23,1149.26 550.49,1147.13 550.76,1144.99 551.03,1142.84 551.31,1140.69 551.59,1138.52 551.87,1136.34 552.15,1134.15 552.45,1131.96 552.74,1129.76 553.04,1127.54 553.34,1125.32 553.65,1123.1 553.96,1120.86 554.27,1118.62 554.59,1116.36 554.92,1114.1 555.24,1111.84 555.58,1109.56 555.91,1107.28 556.25,1104.99 556.6,1102.7 556.95,1100.4 557.3,1098.09 557.66,1095.78 558.03,1093.46 558.4,1091.13 558.77,1088.8 559.15,1086.46 559.54,1084.12 559.93,1081.78 560.32,1079.42 560.72,1077.07 561.13,1074.71 561.54,1072.34 561.96,1069.97 562.38,1067.6 562.81,1065.22 563.24,1062.84 563.68,1060.46 564.13,1058.08 564.58,1055.69 565.04,1053.3 565.5,1050.9 565.98,1048.51 566.45,1046.11 566.94,1043.71 567.43,1041.31 567.92,1038.9 568.42,1036.5 568.93,1034.1 569.45,1031.69 569.97,1029.28 570.51,1026.88 571.04,1024.47 571.59,1022.07 572.14,1019.66 572.7,1017.26 573.27,1014.85 573.84,1012.45 574.43,1010.05 575.02,1007.65 575.62,1005.25 576.22,1002.85 576.84,1000.46 577.46,998.06 578.09,995.67 578.73,993.29 579.38,990.9 580.04,988.52 580.71,986.14 581.38,983.77 582.07,981.4 582.76,979.03 583.46,976.67 584.18,974.31 584.9,971.96 585.63,969.61 586.37,967.27 587.12,964.93 587.89,962.6 588.66,960.27 589.44,957.95 590.23,955.63 591.04,953.33 591.85,951.02 592.68,948.73 593.51,946.44 594.36,944.15 595.22,941.88 596.09,939.61 596.98,937.34 597.87,935.09 598.78,932.84 599.7,930.6 600.63,928.37 601.57,926.15 602.53,923.94 603.5,921.73 604.48,919.53 605.48,917.35 606.49,915.17 607.51,912.99 608.54,910.83 609.6,908.68 610.66,906.54 611.74,904.41 612.83,902.28 613.94,900.17 615.07,898.06 616.2,895.97 617.36,893.89 618.53,891.81 619.71,889.75 620.91,887.7 622.13,885.66 623.36,883.62 624.62,881.6 625.88,879.59 627.17,877.6 628.47,875.61 629.79,873.63 631.13,871.67 632.48,869.71 633.85,867.77 635.25,865.84 636.66,863.92 638.09,862.01 639.53,860.12 641,858.23 642.49,856.36 644,854.5 645.53,852.65 647.08,850.81 648.65,848.99 650.24,847.17 651.85,845.37 653.49,843.58 655.14,841.81 656.82,840.04 658.52,838.29 660.25,836.55 661.99,834.82 663.77,833.11 665.56,831.4 667.38,829.71 669.22,828.03 671.09,826.37 672.99,824.71 674.91,823.07 676.85,821.44 678.82,819.83 680.82,818.22 682.84,816.63 684.9,815.05 686.98,813.48 689.08,811.93 691.22,810.39 693.39,808.86 695.58,807.34 697.8,805.83 700.06,804.34 702.34,802.86 704.66,801.39 707,799.94 709.38,798.49 711.79,797.06 714.23,795.64 716.71,794.23 719.22,792.84 721.76,791.46 724.34,790.08 726.95,788.73 729.6,787.38 732.28,786.04 735,784.72 737.75,783.41 740.54,782.11 743.37,780.82 746.24,779.55 749.15,778.28 752.1,777.03 755.08,775.79 758.11,774.56 761.17,773.34 764.28,772.13 767.43,770.94 770.62,769.76 773.86,768.58 777.14,767.42 780.46,766.27 783.83,765.13 787.24,764 790.7,762.89 794.21,761.78 797.76,760.69 801.36,759.6 805.01,758.53 808.71,757.46 812.46,756.41 816.26,755.37 820.11,754.34 824.01,753.32 827.97,752.31 831.98,751.31 836.04,750.32 840.16,749.34 844.33,748.37 848.56,747.41 852.85,746.46 857.19,745.51 861.59,744.58 866.05,743.66 870.57,742.75 875.16,741.85 879.8,740.96 884.51,740.08 889.28,739.2 894.11,738.34 899.01,737.48 903.98,736.64 909.01,735.8 914.12,734.97 919.28,734.16 924.52,733.35 929.83,732.55 935.22,731.75 940.67,730.97 946.2,730.2 951.8,729.43 957.48,728.67 963.23,727.92 969.06,727.18 974.97,726.45 980.96,725.72 987.03,725.01 993.19,724.3 999.42,723.6 1005.74,722.9 1012.15,722.22 1018.64,721.54 1025.22,720.87 1031.88,720.21 1038.64,719.55 1045.49,718.91 1052.43,718.27 1059.46,717.63 1066.59,717.01 1073.82,716.39 1081.14,715.78 1088.56,715.17 1096.08,714.58 1103.71,713.99 1111.43,713.4 1119.26,712.83 1127.2,712.26 1135.24,711.69 1143.39,711.14 1151.65,710.59 1160.02,710.04 1168.5,709.5 1177.1,708.97 1185.82,708.45 1194.65,707.93 1203.6,707.42 1212.67,706.91 1221.87,706.41 1231.19,705.92 1240.63,705.43 1250.2,704.94 1259.9,704.47 1269.73,704 1279.69,703.53 1289.79,703.07 1300.03,702.61 1310.4,702.17 1320.91,701.72 1331.56,701.28 1342.36,700.85 1353.3,700.42 1364.39,700 1375.63,699.58 1387.02,699.17 1398.57,698.76 1410.27,698.36 1422.12,697.96 1434.14,697.57 1446.32,697.18 1458.66,696.8 1471.17,696.42 1483.85,696.04 1496.7,695.67 1509.72,695.31 1522.92,694.95 1536.3,694.59 1549.86,694.24 1563.6,693.89 1577.52,693.55 1591.63,693.21 1605.93,692.87 1620.43,692.54 1635.12,692.22 1650.01,691.9 1665.1,691.58 1680.39,691.26 1695.89,690.95 1711.6,690.64 1727.52,690.34 1743.65,690.04 1760,689.75 1776.58,689.45 1793.37,689.17 1810.39,688.88"/>
</g>
<text x="509.5" y="165.5" font-size="100">(a)</text>
<text transform="translate(136.1 1524.2) rotate(-90)" font-size="99.85">Acetone adsorption capacity (mg g<tspan font-size="63" dy="-48" dx="-0.8">-1</tspan><tspan dy="48" dx="-1">)</tspan></text>
<text x="1125" y="1797.5" font-size="100"><tspan font-style="italic">P</tspan> (kPa)</text>
<g id="a-legend">
<rect x="751.4" y="907.3" width="1333.2" height="402.5" fill="#fff" stroke="#000" stroke-width="3"/>
<polygon points="838.3,1017.6 860,995.7 881.7,1017.6 860,1039.5" fill="#000000" stroke="#000000" stroke-width="3" stroke-linejoin="round"/>
<polygon points="1271.8,1017.6 1308.1,996.6 1308.1,1038.6" fill="#ff0000" stroke="#ff0000" stroke-width="3" stroke-linejoin="round"/>
<polygon points="884.2,1131.2 847.9,1110.2 847.9,1152.2" fill="#0000ff" stroke="#0000ff" stroke-width="3" stroke-linejoin="round"/>
<polygon points="1295.5,1111.9 1312,1121.7 1312,1141.3 1295.5,1151.1 1279,1141.3 1279,1121.7" fill="#ff00ff" stroke="#ff00ff" stroke-width="3" stroke-linejoin="round"/>
<polygon points="858,1224.8 862,1224.8 865,1238.8 880.13,1238.56 880.11,1240.52 869.37,1248.35 873.16,1259.63 873.2,1262.9 869.02,1262.86 860,1255.65 850.98,1262.86 846.8,1262.9 846.84,1259.63 850.63,1248.35 839.89,1240.52 839.87,1238.56 855,1238.8" fill="#008000" stroke="#008000" stroke-width="1" stroke-linejoin="round"/>
<line x1="1271" y1="1244.6" x2="1432" y2="1244.6" stroke="#000" stroke-width="3" stroke-linecap="round"/>
<g font-size="91.67">
<text x="960" y="1041.8">ZC</text>
<text x="960" y="1155.7">ZC400</text>
<text x="961.5" y="1268.8">AC</text>
<text x="1395.5" y="1041.8">ZC200)</text>
<text x="1395.5" y="1155.7">ZC600</text>
<text x="1452" y="1268.8">Langmuir model</text>
</g></g>
</g>
<g id="panel-b">
<clipPath id="clipb"><rect x="323.3" y="1880.2" width="1872.3" height="1383.8"/></clipPath>
<g fill="none" stroke="#000" stroke-width="6.3" stroke-linecap="round" stroke-linejoin="round">
<rect x="323.3" y="1880.2" width="1872.3" height="1383.8"/>
<path d="M790.97 3263V3236.5M1259.25 3263V3236.5M1727.53 3263V3236.5M556.84 3263V3250.5M1025.11 3263V3250.5M1493.39 3263V3250.5M1961.66 3263V3250.5M324.3 3110.24H350.8M324.3 2956.49H350.8M324.3 2802.74H350.8M324.3 2648.98H350.8M324.3 2495.22H350.8M324.3 2341.47H350.8M324.3 2187.72H350.8M324.3 2033.96H350.8M324.3 3187.12H336.8M324.3 3033.37H336.8M324.3 2879.61H336.8M324.3 2725.86H336.8M324.3 2572.1H336.8M324.3 2418.35H336.8M324.3 2264.59H336.8M324.3 2110.84H336.8M324.3 1957.08H336.8"/>
</g>
<g font-size="80">
<text x="323.9" y="3355.5" text-anchor="middle">0</text>
<text x="791.57" y="3355.5" text-anchor="middle">5</text>
<text x="1259.25" y="3355.5" text-anchor="middle">10</text>
<text x="1726.93" y="3355.5" text-anchor="middle">15</text>
<text x="2194.6" y="3355.5" text-anchor="middle">20</text>
<text x="293.3" y="3287.9" text-anchor="end">0</text>
<text x="293.3" y="3134.14" text-anchor="end">50</text>
<text x="293.3" y="2980.39" text-anchor="end">100</text>
<text x="293.3" y="2826.64" text-anchor="end">150</text>
<text x="293.3" y="2672.88" text-anchor="end">200</text>
<text x="293.3" y="2519.12" text-anchor="end">250</text>
<text x="293.3" y="2365.37" text-anchor="end">300</text>
<text x="293.3" y="2211.62" text-anchor="end">350</text>
<text x="293.3" y="2057.86" text-anchor="end">400</text>
<text x="293.3" y="1904.11" text-anchor="end">450</text>
</g>
<g id="b-markers" clip-path="url(#clipb)">
<g><polygon points="1930.68,2346.04 1959.68,2346.04 1959.68,2375.04 1930.68,2375.04" fill="#000000" stroke="#000000" stroke-width="3" stroke-linejoin="round"/><polygon points="1783.27,2348.5 1812.27,2348.5 1812.27,2377.5 1783.27,2377.5" fill="#000000" stroke="#000000" stroke-width="3" stroke-linejoin="round"/><polygon points="1590.24,2350.03 1619.24,2350.03 1619.24,2379.03 1590.24,2379.03" fill="#000000" stroke="#000000" stroke-width="3" stroke-linejoin="round"/><polygon points="1472.8,2352.49 1501.8,2352.49 1501.8,2381.49 1472.8,2381.49" fill="#000000" stroke="#000000" stroke-width="3" stroke-linejoin="round"/><polygon points="1311.9,2361.41 1340.9,2361.41 1340.9,2390.41 1311.9,2390.41" fill="#000000" stroke="#000000" stroke-width="3" stroke-linejoin="round"/><polygon points="1148.29,2372.79 1177.29,2372.79 1177.29,2401.79 1148.29,2401.79" fill="#000000" stroke="#000000" stroke-width="3" stroke-linejoin="round"/><polygon points="1004.81,2375.86 1033.81,2375.86 1033.81,2404.86 1004.81,2404.86" fill="#000000" stroke="#000000" stroke-width="3" stroke-linejoin="round"/><polygon points="856.36,2380.17 885.36,2380.17 885.36,2409.17 856.36,2409.17" fill="#000000" stroke="#000000" stroke-width="3" stroke-linejoin="round"/><polygon points="719.06,2395.24 748.06,2395.24 748.06,2424.24 719.06,2424.24" fill="#000000" stroke="#000000" stroke-width="3" stroke-linejoin="round"/><polygon points="538.97,2422.91 567.97,2422.91 567.97,2451.91 538.97,2451.91" fill="#000000" stroke="#000000" stroke-width="3" stroke-linejoin="round"/><polygon points="456.92,2457.66 485.92,2457.66 485.92,2486.66 456.92,2486.66" fill="#000000" stroke="#000000" stroke-width="3" stroke-linejoin="round"/><polygon points="394.08,2533.62 423.08,2533.62 423.08,2562.62 394.08,2562.62" fill="#000000" stroke="#000000" stroke-width="3" stroke-linejoin="round"/><polygon points="349.5,2644.01 378.5,2644.01 378.5,2673.01 349.5,2673.01" fill="#000000" stroke="#000000" stroke-width="3" stroke-linejoin="round"/><polygon points="328.05,2735.65 357.05,2735.65 357.05,2764.65 328.05,2764.65" fill="#000000" stroke="#000000" stroke-width="3" stroke-linejoin="round"/><polygon points="325.43,2848.51 354.43,2848.51 354.43,2877.51 325.43,2877.51" fill="#000000" stroke="#000000" stroke-width="3" stroke-linejoin="round"/><polygon points="318.69,2948.45 347.69,2948.45 347.69,2977.45 318.69,2977.45" fill="#000000" stroke="#000000" stroke-width="3" stroke-linejoin="round"/></g>
<g><circle cx="1956.91" cy="2171.72" r="18.1" fill="#ff0000"/><circle cx="1840.03" cy="2176.34" r="18.1" fill="#ff0000"/><circle cx="1710.7" cy="2185.25" r="18.1" fill="#ff0000"/><circle cx="1590.63" cy="2196.33" r="18.1" fill="#ff0000"/><circle cx="1424.49" cy="2203.4" r="18.1" fill="#ff0000"/><circle cx="1279.88" cy="2217.24" r="18.1" fill="#ff0000"/><circle cx="1155.6" cy="2224" r="18.1" fill="#ff0000"/><circle cx="975.32" cy="2231.69" r="18.1" fill="#ff0000"/><circle cx="831.84" cy="2247.68" r="18.1" fill="#ff0000"/><circle cx="701.47" cy="2264.28" r="18.1" fill="#ff0000"/><circle cx="517.62" cy="2326.71" r="18.1" fill="#ff0000"/><circle cx="439.7" cy="2409.43" r="18.1" fill="#ff0000"/><circle cx="385.76" cy="2506.91" r="18.1" fill="#ff0000"/><circle cx="357.94" cy="2611.46" r="18.1" fill="#ff0000"/><circle cx="345.58" cy="2719.71" r="18.1" fill="#ff0000"/><circle cx="336.78" cy="2895.3" r="18.1" fill="#ff0000"/></g>
<g><polygon points="1954.73,2071.59 1935.38,2105.09 1974.08,2105.09" fill="#0000ff" stroke="#0000ff" stroke-width="3" stroke-linejoin="round"/><polygon points="1816.68,2073.74 1797.33,2107.24 1836.03,2107.24" fill="#0000ff" stroke="#0000ff" stroke-width="3" stroke-linejoin="round"/><polygon points="1709.73,2079.59 1690.38,2113.09 1729.08,2113.09" fill="#0000ff" stroke="#0000ff" stroke-width="3" stroke-linejoin="round"/><polygon points="1590.51,2086.97 1571.16,2120.47 1609.86,2120.47" fill="#0000ff" stroke="#0000ff" stroke-width="3" stroke-linejoin="round"/><polygon points="1452.55,2092.81 1433.2,2126.31 1471.9,2126.31" fill="#0000ff" stroke="#0000ff" stroke-width="3" stroke-linejoin="round"/><polygon points="1297.46,2098.96 1278.11,2132.46 1316.81,2132.46" fill="#0000ff" stroke="#0000ff" stroke-width="3" stroke-linejoin="round"/><polygon points="1125.89,2107.26 1106.54,2140.76 1145.24,2140.76" fill="#0000ff" stroke="#0000ff" stroke-width="3" stroke-linejoin="round"/><polygon points="967.33,2117.41 947.98,2150.91 986.68,2150.91" fill="#0000ff" stroke="#0000ff" stroke-width="3" stroke-linejoin="round"/><polygon points="833.21,2134.63 813.86,2168.13 852.56,2168.13" fill="#0000ff" stroke="#0000ff" stroke-width="3" stroke-linejoin="round"/><polygon points="705,2157.39 685.65,2190.89 724.35,2190.89" fill="#0000ff" stroke="#0000ff" stroke-width="3" stroke-linejoin="round"/><polygon points="544.38,2219.5 525.03,2253 563.73,2253" fill="#0000ff" stroke="#0000ff" stroke-width="3" stroke-linejoin="round"/><polygon points="480.13,2276.39 460.78,2309.89 499.48,2309.89" fill="#0000ff" stroke="#0000ff" stroke-width="3" stroke-linejoin="round"/><polygon points="378.24,2470.74 358.89,2504.24 397.59,2504.24" fill="#0000ff" stroke="#0000ff" stroke-width="3" stroke-linejoin="round"/><polygon points="366.81,2549.46 347.46,2582.96 386.16,2582.96" fill="#0000ff" stroke="#0000ff" stroke-width="3" stroke-linejoin="round"/><polygon points="355.95,2566.68 336.6,2600.18 375.3,2600.18" fill="#0000ff" stroke="#0000ff" stroke-width="3" stroke-linejoin="round"/><polygon points="348.74,2734.28 329.39,2767.78 368.09,2767.78" fill="#0000ff" stroke="#0000ff" stroke-width="3" stroke-linejoin="round"/><polygon points="335.53,2939.38 316.18,2972.88 354.88,2972.88" fill="#0000ff" stroke="#0000ff" stroke-width="3" stroke-linejoin="round"/></g>
<g><polygon points="1995.94,2015.7 1976.59,1982.2 2015.29,1982.2" fill="#ff00ff" stroke="#ff00ff" stroke-width="3" stroke-linejoin="round"/><polygon points="1797.49,2027.39 1778.14,1993.89 1816.84,1993.89" fill="#ff00ff" stroke="#ff00ff" stroke-width="3" stroke-linejoin="round"/><polygon points="1570.56,2037.54 1551.21,2004.04 1589.91,2004.04" fill="#ff00ff" stroke="#ff00ff" stroke-width="3" stroke-linejoin="round"/><polygon points="1390.27,2051.99 1370.92,2018.49 1409.62,2018.49" fill="#ff00ff" stroke="#ff00ff" stroke-width="3" stroke-linejoin="round"/><polygon points="1214.58,2069.52 1195.23,2036.02 1233.93,2036.02" fill="#ff00ff" stroke="#ff00ff" stroke-width="3" stroke-linejoin="round"/><polygon points="996.17,2094.42 976.82,2060.92 1015.52,2060.92" fill="#ff00ff" stroke="#ff00ff" stroke-width="3" stroke-linejoin="round"/><polygon points="758.29,2128.87 738.94,2095.37 777.64,2095.37" fill="#ff00ff" stroke="#ff00ff" stroke-width="3" stroke-linejoin="round"/><polygon points="587.37,2157.16 568.02,2123.66 606.72,2123.66" fill="#ff00ff" stroke="#ff00ff" stroke-width="3" stroke-linejoin="round"/><polygon points="505.33,2187.6 485.98,2154.1 524.68,2154.1" fill="#ff00ff" stroke="#ff00ff" stroke-width="3" stroke-linejoin="round"/><polygon points="452.69,2238.95 433.34,2205.45 472.04,2205.45" fill="#ff00ff" stroke="#ff00ff" stroke-width="3" stroke-linejoin="round"/><polygon points="402.96,2326.9 383.61,2293.4 422.31,2293.4" fill="#ff00ff" stroke="#ff00ff" stroke-width="3" stroke-linejoin="round"/><polygon points="370.28,2411.77 350.93,2378.27 389.63,2378.27" fill="#ff00ff" stroke="#ff00ff" stroke-width="3" stroke-linejoin="round"/><polygon points="353.98,2514.48 334.63,2480.98 373.33,2480.98" fill="#ff00ff" stroke="#ff00ff" stroke-width="3" stroke-linejoin="round"/><polygon points="345.83,2627.65 326.48,2594.15 365.18,2594.15" fill="#ff00ff" stroke="#ff00ff" stroke-width="3" stroke-linejoin="round"/><polygon points="339.28,2754.03 319.93,2720.53 358.63,2720.53" fill="#ff00ff" stroke="#ff00ff" stroke-width="3" stroke-linejoin="round"/><polygon points="333.66,2855.2 314.31,2821.7 353.01,2821.7" fill="#ff00ff" stroke="#ff00ff" stroke-width="3" stroke-linejoin="round"/><polygon points="332.09,2988.36 312.74,2954.86 351.44,2954.86" fill="#ff00ff" stroke="#ff00ff" stroke-width="3" stroke-linejoin="round"/></g>
<g><polygon points="1909.07,2531.02 1929.82,2510.27 1950.57,2531.02 1929.82,2551.77" fill="#008000" stroke="#008000" stroke-width="3" stroke-linejoin="round"/><polygon points="1763.06,2539.32 1783.81,2518.57 1804.56,2539.32 1783.81,2560.07" fill="#008000" stroke="#008000" stroke-width="3" stroke-linejoin="round"/><polygon points="1600.48,2546.39 1621.23,2525.64 1641.98,2546.39 1621.23,2567.14" fill="#008000" stroke="#008000" stroke-width="3" stroke-linejoin="round"/><polygon points="1468.05,2552.85 1488.8,2532.1 1509.55,2552.85 1488.8,2573.6" fill="#008000" stroke="#008000" stroke-width="3" stroke-linejoin="round"/><polygon points="1346.39,2559.93 1367.14,2539.18 1387.89,2559.93 1367.14,2580.68" fill="#008000" stroke="#008000" stroke-width="3" stroke-linejoin="round"/><polygon points="1179.59,2568.84 1200.34,2548.09 1221.09,2568.84 1200.34,2589.59" fill="#008000" stroke="#008000" stroke-width="3" stroke-linejoin="round"/><polygon points="1057.84,2579.3 1078.59,2558.55 1099.34,2579.3 1078.59,2600.05" fill="#008000" stroke="#008000" stroke-width="3" stroke-linejoin="round"/><polygon points="916.51,2594.67 937.26,2573.92 958.01,2594.67 937.26,2615.42" fill="#008000" stroke="#008000" stroke-width="3" stroke-linejoin="round"/><polygon points="792.98,2615.89 813.73,2595.14 834.48,2615.89 813.73,2636.64" fill="#008000" stroke="#008000" stroke-width="3" stroke-linejoin="round"/><polygon points="684.72,2643.57 705.47,2622.82 726.22,2643.57 705.47,2664.32" fill="#008000" stroke="#008000" stroke-width="3" stroke-linejoin="round"/><polygon points="530.09,2681.7 550.84,2660.95 571.59,2681.7 550.84,2702.45" fill="#008000" stroke="#008000" stroke-width="3" stroke-linejoin="round"/><polygon points="475.02,2712.45 495.77,2691.7 516.52,2712.45 495.77,2733.2" fill="#008000" stroke="#008000" stroke-width="3" stroke-linejoin="round"/><polygon points="436.53,2748.43 457.28,2727.68 478.03,2748.43 457.28,2769.18" fill="#008000" stroke="#008000" stroke-width="3" stroke-linejoin="round"/><polygon points="396.73,2789.33 417.48,2768.58 438.23,2789.33 417.48,2810.08" fill="#008000" stroke="#008000" stroke-width="3" stroke-linejoin="round"/><polygon points="368.45,2834.53 389.2,2813.78 409.95,2834.53 389.2,2855.28" fill="#008000" stroke="#008000" stroke-width="3" stroke-linejoin="round"/><polygon points="348.96,2887.42 369.71,2866.67 390.46,2887.42 369.71,2908.17" fill="#008000" stroke="#008000" stroke-width="3" stroke-linejoin="round"/><polygon points="333.32,2945.24 354.07,2924.49 374.82,2945.24 354.07,2965.99" fill="#008000" stroke="#008000" stroke-width="3" stroke-linejoin="round"/><polygon points="325.55,3005.81 346.3,2985.06 367.05,3005.81 346.3,3026.56" fill="#008000" stroke="#008000" stroke-width="3" stroke-linejoin="round"/><polygon points="321.62,3068.24 342.37,3047.49 363.12,3068.24 342.37,3088.99" fill="#008000" stroke="#008000" stroke-width="3" stroke-linejoin="round"/><polygon points="317.78,3133.43 338.53,3112.68 359.28,3133.43 338.53,3154.18" fill="#008000" stroke="#008000" stroke-width="3" stroke-linejoin="round"/><polygon points="309.54,3199.55 330.29,3178.8 351.04,3199.55 330.29,3220.3" fill="#008000" stroke="#008000" stroke-width="3" stroke-linejoin="round"/></g>
</g>
<g id="b-curves" clip-path="url(#clipb)">
<polyline fill="none" stroke="#000" stroke-width="3.1" stroke-linejoin="round" stroke-linecap="round" points="333.19,2795.76 333.32,2794.91 333.46,2794.06 333.59,2793.2 333.73,2792.35 333.87,2791.49 334.01,2790.63 334.16,2789.77 334.3,2788.91 334.45,2788.05 334.6,2787.18 334.75,2786.32 334.9,2785.45 335.06,2784.58 335.21,2783.71 335.37,2782.84 335.53,2781.96 335.7,2781.09 335.86,2780.21 336.03,2779.33 336.2,2778.45 336.37,2777.57 336.54,2776.69 336.72,2775.8 336.89,2774.91 337.07,2774.02 337.26,2773.13 337.44,2772.24 337.63,2771.35 337.82,2770.46 338.01,2769.56 338.2,2768.66 338.4,2767.76 338.6,2766.86 338.8,2765.96 339.01,2765.05 339.21,2764.14 339.42,2763.24 339.63,2762.33 339.85,2761.42 340.07,2760.5 340.29,2759.59 340.51,2758.67 340.73,2757.75 340.96,2756.83 341.2,2755.91 341.43,2754.99 341.67,2754.07 341.91,2753.14 342.15,2752.21 342.4,2751.28 342.65,2750.35 342.9,2749.42 343.16,2748.48 343.42,2747.55 343.68,2746.61 343.95,2745.67 344.22,2744.73 344.49,2743.78 344.76,2742.84 345.04,2741.89 345.33,2740.94 345.61,2739.99 345.91,2739.04 346.2,2738.09 346.5,2737.13 346.8,2736.18 347.1,2735.22 347.41,2734.26 347.73,2733.29 348.05,2732.33 348.37,2731.36 348.69,2730.4 349.02,2729.43 349.36,2728.46 349.69,2727.48 350.04,2726.51 350.38,2725.53 350.73,2724.55 351.09,2723.57 351.45,2722.59 351.81,2721.61 352.18,2720.62 352.56,2719.64 352.94,2718.65 353.32,2717.66 353.71,2716.66 354.1,2715.67 354.5,2714.67 354.9,2713.68 355.31,2712.68 355.73,2711.67 356.14,2710.67 356.57,2709.67 357,2708.66 357.43,2707.65 357.87,2706.64 358.32,2705.63 358.77,2704.61 359.23,2703.6 359.69,2702.58 360.16,2701.56 360.64,2700.54 361.12,2699.51 361.6,2698.49 362.1,2697.46 362.6,2696.43 363.1,2695.4 363.62,2694.37 364.14,2693.33 364.66,2692.3 365.19,2691.26 365.73,2690.22 366.28,2689.18 366.83,2688.13 367.39,2687.09 367.96,2686.04 368.53,2684.99 369.11,2683.94 369.7,2682.88 370.3,2681.83 370.9,2680.77 371.51,2679.71 372.13,2678.65 372.76,2677.58 373.39,2676.52 374.04,2675.45 374.69,2674.38 375.35,2673.31 376.01,2672.24 376.69,2671.16 377.37,2670.09 378.07,2669.01 378.77,2667.93 379.48,2666.84 380.2,2665.76 380.93,2664.67 381.67,2663.58 382.42,2662.49 383.18,2661.4 383.94,2660.31 384.72,2659.21 385.51,2658.11 386.3,2657.01 387.11,2655.91 387.93,2654.8 388.75,2653.7 389.59,2652.59 390.44,2651.48 391.3,2650.37 392.17,2649.25 393.05,2648.13 393.94,2647.01 394.84,2645.89 395.76,2644.77 396.69,2643.65 397.62,2642.52 398.58,2641.39 399.54,2640.26 400.51,2639.13 401.5,2637.99 402.5,2636.85 403.51,2635.72 404.54,2634.57 405.57,2633.43 406.62,2632.28 407.69,2631.14 408.77,2629.99 409.86,2628.84 410.96,2627.68 412.08,2626.53 413.22,2625.37 414.37,2624.21 415.53,2623.05 416.71,2621.88 417.9,2620.72 419.1,2619.55 420.33,2618.38 421.57,2617.2 422.82,2616.03 424.09,2614.85 425.38,2613.67 426.68,2612.49 428,2611.31 429.33,2610.12 430.68,2608.93 432.05,2607.74 433.44,2606.55 434.85,2605.36 436.27,2604.16 437.71,2602.96 439.17,2601.76 440.64,2600.56 442.14,2599.35 443.65,2598.15 445.19,2596.94 446.74,2595.72 448.32,2594.51 449.91,2593.29 451.52,2592.08 453.16,2590.86 454.81,2589.63 456.49,2588.41 458.18,2587.18 459.9,2585.95 461.64,2584.72 463.4,2583.49 465.19,2582.25 467,2581.01 468.83,2579.77 470.68,2578.53 472.56,2577.28 474.46,2576.03 476.38,2574.79 478.33,2573.53 480.3,2572.28 482.3,2571.02 484.33,2569.76 486.38,2568.5 488.45,2567.24 490.56,2565.97 492.68,2564.71 494.84,2563.44 497.02,2562.16 499.23,2560.89 501.47,2559.61 503.74,2558.33 506.04,2557.05 508.36,2555.76 510.72,2554.48 513.1,2553.19 515.52,2551.9 517.96,2550.6 520.44,2549.31 522.95,2548.01 525.49,2546.71 528.06,2545.41 530.66,2544.1 533.3,2542.79 535.97,2541.48 538.68,2540.17 541.42,2538.86 544.19,2537.54 547,2536.22 549.84,2534.9 552.72,2533.57 555.64,2532.25 558.6,2530.92 561.59,2529.59 564.62,2528.25 567.69,2526.91 570.79,2525.58 573.94,2524.23 577.13,2522.89 580.35,2521.54 583.62,2520.2 586.93,2518.84 590.28,2517.49 593.68,2516.13 597.11,2514.78 600.59,2513.42 604.12,2512.05 607.69,2510.69 611.3,2509.32 614.96,2507.95 618.67,2506.57 622.42,2505.2 626.22,2503.82 630.07,2502.44 633.97,2501.05 637.92,2499.67 641.92,2498.28 645.97,2496.89 650.07,2495.5 654.22,2494.1 658.42,2492.7 662.68,2491.3 666.99,2489.9 671.36,2488.49 675.78,2487.08 680.26,2485.67 684.8,2484.26 689.39,2482.84 694.04,2481.42 698.75,2480 703.52,2478.58 708.35,2477.15 713.24,2475.72 718.19,2474.29 723.21,2472.85 728.29,2471.42 733.43,2469.98 738.64,2468.53 743.92,2467.09 749.26,2465.64 754.67,2464.19 760.15,2462.74 765.7,2461.28 771.32,2459.82 777.01,2458.36 782.77,2456.9 788.6,2455.43 794.51,2453.96 800.5,2452.49 806.56,2451.02 812.69,2449.54 818.91,2448.06 825.2,2446.58 831.57,2445.1 838.03,2443.61 844.56,2442.12 851.18,2440.62 857.89,2439.13 864.67,2437.63 871.55,2436.13 878.51,2434.63 885.56,2433.12 892.7,2431.61 899.93,2430.1 907.25,2428.58 914.66,2427.07 922.17,2425.55 929.77,2424.02 937.47,2422.5 945.27,2420.97 953.17,2419.44 961.16,2417.9 969.26,2416.37 977.46,2414.83 985.76,2413.28 994.17,2411.74 1002.69,2410.19 1011.31,2408.64 1020.05,2407.08 1028.89,2405.53 1037.85,2403.97 1046.92,2402.41 1056.11,2400.84 1065.41,2399.27 1074.83,2397.7 1084.37,2396.13 1094.03,2394.55 1103.81,2392.97 1113.72,2391.39 1123.75,2389.81 1133.91,2388.22 1144.2,2386.63 1154.62,2385.03 1165.17,2383.44 1175.85,2381.84 1186.67,2380.23 1197.63,2378.63 1208.73,2377.02 1219.97,2375.41 1231.35,2373.79 1242.87,2372.18 1254.54,2370.56 1266.36,2368.93 1278.33,2367.31 1290.45,2365.68 1302.72,2364.05 1315.15,2362.41 1327.74,2360.78 1340.49,2359.13 1353.4,2357.49 1366.47,2355.84 1379.71,2354.19 1393.11,2352.54 1406.69,2350.89 1420.44,2349.23 1434.36,2347.57 1448.46,2345.9 1462.74,2344.23 1477.2,2342.56 1491.84,2340.89 1506.67,2339.21 1521.68,2337.53 1536.89,2335.85 1552.29,2334.16 1567.89,2332.47 1583.68,2330.78 1599.67,2329.09 1615.87,2327.39 1632.27,2325.69 1648.88,2323.98 1665.7,2322.27 1682.73,2320.56 1699.98,2318.85 1717.45,2317.13 1735.14,2315.41 1753.05,2313.69 1771.19,2311.96 1789.57,2310.23 1808.17,2308.5 1827.01,2306.77 1846.09,2305.03 1865.41,2303.29 1884.98,2301.54 1904.79,2299.79 1924.86,2298.04 1945.18,2296.29"/>
<polyline fill="none" stroke="#000" stroke-width="3.1" stroke-linejoin="round" stroke-linecap="round" points="336.78,2699.69 336.94,2698.69 337.11,2697.69 337.29,2696.69 337.46,2695.69 337.64,2694.68 337.82,2693.68 338,2692.67 338.18,2691.66 338.37,2690.65 338.55,2689.63 338.74,2688.62 338.93,2687.6 339.13,2686.58 339.32,2685.56 339.52,2684.54 339.72,2683.51 339.93,2682.49 340.13,2681.46 340.34,2680.43 340.55,2679.4 340.77,2678.36 340.98,2677.33 341.2,2676.29 341.42,2675.25 341.65,2674.21 341.87,2673.17 342.1,2672.12 342.33,2671.08 342.57,2670.03 342.81,2668.98 343.05,2667.93 343.29,2666.87 343.54,2665.82 343.79,2664.76 344.04,2663.7 344.29,2662.64 344.55,2661.58 344.81,2660.51 345.08,2659.45 345.34,2658.38 345.62,2657.31 345.89,2656.23 346.17,2655.16 346.45,2654.08 346.73,2653.01 347.02,2651.93 347.31,2650.84 347.6,2649.76 347.9,2648.67 348.2,2647.59 348.51,2646.5 348.82,2645.4 349.13,2644.31 349.44,2643.21 349.76,2642.12 350.09,2641.02 350.42,2639.92 350.75,2638.81 351.08,2637.71 351.42,2636.6 351.77,2635.49 352.11,2634.38 352.46,2633.27 352.82,2632.15 353.18,2631.04 353.55,2629.92 353.91,2628.8 354.29,2627.67 354.66,2626.55 355.05,2625.42 355.43,2624.29 355.83,2623.16 356.22,2622.03 356.62,2620.89 357.03,2619.76 357.44,2618.62 357.85,2617.48 358.27,2616.33 358.7,2615.19 359.13,2614.04 359.57,2612.89 360.01,2611.74 360.45,2610.59 360.9,2609.43 361.36,2608.28 361.82,2607.12 362.29,2605.96 362.76,2604.79 363.24,2603.63 363.73,2602.46 364.22,2601.29 364.71,2600.12 365.22,2598.95 365.73,2597.77 366.24,2596.59 366.76,2595.41 367.29,2594.23 367.82,2593.05 368.36,2591.86 368.91,2590.67 369.46,2589.48 370.02,2588.29 370.58,2587.09 371.16,2585.9 371.73,2584.7 372.32,2583.5 372.91,2582.29 373.51,2581.09 374.12,2579.88 374.74,2578.67 375.36,2577.46 375.99,2576.25 376.63,2575.03 377.27,2573.81 377.92,2572.59 378.58,2571.37 379.25,2570.15 379.93,2568.92 380.61,2567.69 381.31,2566.46 382.01,2565.23 382.71,2563.99 383.43,2562.75 384.16,2561.52 384.89,2560.27 385.64,2559.03 386.39,2557.78 387.15,2556.53 387.92,2555.28 388.7,2554.03 389.49,2552.78 390.29,2551.52 391.1,2550.26 391.92,2549 392.74,2547.73 393.58,2546.47 394.43,2545.2 395.29,2543.93 396.15,2542.65 397.03,2541.38 397.92,2540.1 398.82,2538.82 399.73,2537.54 400.65,2536.26 401.58,2534.97 402.53,2533.68 403.48,2532.39 404.45,2531.1 405.42,2529.8 406.41,2528.5 407.41,2527.2 408.43,2525.9 409.45,2524.6 410.49,2523.29 411.54,2521.98 412.6,2520.67 413.68,2519.35 414.76,2518.04 415.87,2516.72 416.98,2515.4 418.11,2514.07 419.25,2512.75 420.4,2511.42 421.57,2510.09 422.75,2508.76 423.95,2507.42 425.16,2506.08 426.38,2504.74 427.62,2503.4 428.88,2502.06 430.15,2500.71 431.43,2499.36 432.73,2498.01 434.05,2496.65 435.38,2495.3 436.73,2493.94 438.09,2492.58 439.47,2491.21 440.87,2489.85 442.28,2488.48 443.71,2487.11 445.16,2485.73 446.62,2484.36 448.1,2482.98 449.6,2481.6 451.12,2480.22 452.65,2478.83 454.21,2477.44 455.78,2476.05 457.37,2474.66 458.98,2473.26 460.61,2471.87 462.26,2470.47 463.93,2469.06 465.62,2467.66 467.33,2466.25 469.06,2464.84 470.81,2463.43 472.58,2462.01 474.37,2460.59 476.18,2459.17 478.02,2457.75 479.88,2456.33 481.76,2454.9 483.66,2453.47 485.58,2452.03 487.53,2450.6 489.5,2449.16 491.49,2447.72 493.51,2446.28 495.56,2444.83 497.62,2443.38 499.71,2441.93 501.83,2440.48 503.97,2439.02 506.14,2437.57 508.33,2436.1 510.55,2434.64 512.8,2433.18 515.07,2431.71 517.37,2430.24 519.7,2428.76 522.05,2427.28 524.44,2425.81 526.85,2424.32 529.29,2422.84 531.76,2421.35 534.26,2419.86 536.79,2418.37 539.35,2416.88 541.94,2415.38 544.56,2413.88 547.22,2412.37 549.9,2410.87 552.62,2409.36 555.37,2407.85 558.15,2406.34 560.96,2404.82 563.81,2403.3 566.7,2401.78 569.61,2400.26 572.57,2398.73 575.55,2397.2 578.58,2395.67 581.64,2394.13 584.73,2392.59 587.86,2391.05 591.04,2389.51 594.24,2387.96 597.49,2386.42 600.78,2384.86 604.1,2383.31 607.47,2381.75 610.87,2380.19 614.32,2378.63 617.8,2377.07 621.33,2375.5 624.9,2373.93 628.52,2372.35 632.17,2370.78 635.87,2369.2 639.62,2367.62 643.41,2366.03 647.24,2364.44 651.12,2362.85 655.05,2361.26 659.02,2359.66 663.04,2358.07 667.11,2356.46 671.23,2354.86 675.4,2353.25 679.62,2351.64 683.88,2350.03 688.2,2348.41 692.57,2346.8 697,2345.17 701.47,2343.55 706,2341.92 710.58,2340.29 715.22,2338.66 719.91,2337.02 724.66,2335.39 729.47,2333.74 734.33,2332.1 739.26,2330.45 744.24,2328.8 749.28,2327.15 754.38,2325.49 759.54,2323.83 764.76,2322.17 770.05,2320.51 775.4,2318.84 780.81,2317.17 786.29,2315.49 791.83,2313.82 797.44,2312.14 803.12,2310.45 808.86,2308.77 814.67,2307.08 820.56,2305.39 826.51,2303.69 832.53,2302 838.63,2300.29 844.8,2298.59 851.04,2296.88 857.36,2295.17 863.75,2293.46 870.22,2291.75 876.77,2290.03 883.39,2288.31 890.1,2286.58 896.88,2284.85 903.75,2283.12 910.69,2281.39 917.72,2279.65 924.84,2277.91 932.04,2276.17 939.32,2274.42 946.7,2272.67 954.16,2270.92 961.71,2269.16 969.35,2267.4 977.08,2265.64 984.91,2263.88 992.82,2262.11 1000.84,2260.34 1008.95,2258.56 1017.15,2256.79 1025.45,2255.01 1033.86,2253.22 1042.36,2251.44 1050.97,2249.65 1059.67,2247.85 1068.49,2246.06 1077.4,2244.26 1086.43,2242.45 1095.56,2240.65 1104.8,2238.84 1114.15,2237.03 1123.61,2235.21 1133.19,2233.39 1142.88,2231.57 1152.69,2229.75 1162.61,2227.92 1172.66,2226.09 1182.82,2224.25 1193.1,2222.41 1203.51,2220.57 1214.04,2218.73 1224.7,2216.88 1235.49,2215.03 1246.4,2213.17 1257.44,2211.32 1268.62,2209.45 1279.93,2207.59 1291.38,2205.72 1302.96,2203.85 1314.68,2201.98 1326.54,2200.1 1338.54,2198.22 1350.69,2196.34 1362.98,2194.45 1375.42,2192.56 1388.01,2190.66 1400.75,2188.77 1413.64,2186.86 1426.68,2184.96 1439.88,2183.05 1453.24,2181.14 1466.76,2179.23 1480.44,2177.31 1494.28,2175.39 1508.29,2173.46 1522.46,2171.54 1536.81,2169.61 1551.33,2167.67 1566.02,2165.73 1580.88,2163.79 1595.93,2161.85 1611.15,2159.9 1626.56,2157.95 1642.15,2155.99 1657.92,2154.03 1673.89,2152.07 1690.05,2150.1 1706.39,2148.13 1722.94,2146.16 1739.68,2144.19 1756.63,2142.21 1773.77,2140.22 1791.12,2138.24 1808.68,2136.25 1826.45,2134.25 1844.43,2132.26 1862.62,2130.25 1881.03,2128.25 1899.67,2126.24 1918.52,2124.23 1937.6,2122.22 1956.91,2120.2"/>
<polyline fill="none" stroke="#000" stroke-width="3.1" stroke-linejoin="round" stroke-linecap="round" points="335.53,2714.14 335.69,2713.01 335.85,2711.87 336.01,2710.74 336.17,2709.6 336.33,2708.46 336.5,2707.32 336.67,2706.17 336.84,2705.02 337.01,2703.87 337.18,2702.72 337.36,2701.57 337.54,2700.41 337.72,2699.25 337.9,2698.09 338.09,2696.93 338.28,2695.76 338.46,2694.59 338.66,2693.42 338.85,2692.25 339.05,2691.07 339.25,2689.89 339.45,2688.71 339.65,2687.53 339.86,2686.34 340.07,2685.16 340.28,2683.96 340.5,2682.77 340.71,2681.58 340.93,2680.38 341.15,2679.18 341.38,2677.98 341.61,2676.77 341.84,2675.56 342.07,2674.35 342.31,2673.14 342.55,2671.92 342.79,2670.71 343.03,2669.49 343.28,2668.26 343.53,2667.04 343.78,2665.81 344.04,2664.58 344.3,2663.35 344.56,2662.11 344.83,2660.87 345.1,2659.63 345.37,2658.39 345.65,2657.14 345.93,2655.9 346.21,2654.65 346.5,2653.39 346.79,2652.14 347.08,2650.88 347.38,2649.62 347.68,2648.35 347.99,2647.09 348.29,2645.82 348.61,2644.55 348.92,2643.27 349.24,2642 349.56,2640.72 349.89,2639.44 350.22,2638.15 350.56,2636.86 350.9,2635.57 351.24,2634.28 351.59,2632.99 351.94,2631.69 352.3,2630.39 352.66,2629.08 353.02,2627.78 353.39,2626.47 353.77,2625.16 354.15,2623.85 354.53,2622.53 354.92,2621.21 355.31,2619.89 355.71,2618.56 356.11,2617.24 356.52,2615.91 356.93,2614.57 357.35,2613.24 357.77,2611.9 358.2,2610.56 358.63,2609.21 359.07,2607.87 359.51,2606.52 359.96,2605.16 360.41,2603.81 360.87,2602.45 361.34,2601.09 361.81,2599.73 362.29,2598.36 362.77,2596.99 363.26,2595.62 363.75,2594.25 364.25,2592.87 364.76,2591.49 365.27,2590.1 365.79,2588.72 366.31,2587.33 366.85,2585.94 367.38,2584.54 367.93,2583.15 368.48,2581.75 369.04,2580.34 369.6,2578.94 370.17,2577.53 370.75,2576.12 371.34,2574.7 371.93,2573.28 372.53,2571.86 373.14,2570.44 373.75,2569.01 374.38,2567.58 375.01,2566.15 375.64,2564.72 376.29,2563.28 376.94,2561.84 377.6,2560.39 378.27,2558.95 378.95,2557.5 379.63,2556.04 380.33,2554.59 381.03,2553.13 381.74,2551.66 382.46,2550.2 383.19,2548.73 383.93,2547.26 384.67,2545.79 385.43,2544.31 386.19,2542.83 386.97,2541.35 387.75,2539.86 388.54,2538.37 389.35,2536.88 390.16,2535.38 390.98,2533.88 391.81,2532.38 392.65,2530.88 393.51,2529.37 394.37,2527.86 395.24,2526.34 396.13,2524.83 397.02,2523.31 397.93,2521.78 398.85,2520.26 399.77,2518.73 400.71,2517.19 401.66,2515.66 402.63,2514.12 403.6,2512.58 404.59,2511.03 405.58,2509.48 406.6,2507.93 407.62,2506.38 408.65,2504.82 409.7,2503.26 410.76,2501.69 411.83,2500.12 412.92,2498.55 414.02,2496.98 415.13,2495.4 416.26,2493.82 417.4,2492.24 418.55,2490.65 419.72,2489.06 420.9,2487.47 422.1,2485.87 423.31,2484.27 424.54,2482.66 425.78,2481.06 427.04,2479.45 428.31,2477.83 429.6,2476.22 430.9,2474.6 432.22,2472.97 433.55,2471.35 434.9,2469.72 436.27,2468.08 437.65,2466.44 439.06,2464.8 440.47,2463.16 441.91,2461.51 443.36,2459.86 444.83,2458.21 446.32,2456.55 447.83,2454.89 449.35,2453.23 450.9,2451.56 452.46,2449.89 454.04,2448.21 455.64,2446.54 457.26,2444.86 458.9,2443.17 460.56,2441.48 462.24,2439.79 463.94,2438.1 465.66,2436.4 467.41,2434.69 469.17,2432.99 470.96,2431.28 472.76,2429.57 474.59,2427.85 476.44,2426.13 478.32,2424.41 480.21,2422.68 482.13,2420.95 484.08,2419.22 486.04,2417.48 488.03,2415.74 490.05,2413.99 492.09,2412.25 494.15,2410.49 496.24,2408.74 498.36,2406.98 500.5,2405.22 502.67,2403.45 504.86,2401.68 507.08,2399.91 509.33,2398.13 511.6,2396.35 513.9,2394.56 516.23,2392.78 518.59,2390.98 520.98,2389.19 523.4,2387.39 525.84,2385.59 528.32,2383.78 530.83,2381.97 533.36,2380.16 535.93,2378.34 538.53,2376.52 541.16,2374.69 543.82,2372.86 546.52,2371.03 549.24,2369.19 552.01,2367.35 554.8,2365.51 557.63,2363.66 560.49,2361.81 563.39,2359.95 566.32,2358.09 569.29,2356.23 572.3,2354.36 575.34,2352.49 578.42,2350.62 581.54,2348.74 584.69,2346.86 587.89,2344.97 591.12,2343.08 594.39,2341.19 597.7,2339.29 601.05,2337.39 604.44,2335.48 607.88,2333.57 611.35,2331.66 614.87,2329.74 618.43,2327.82 622.04,2325.89 625.69,2323.96 629.38,2322.03 633.12,2320.09 636.9,2318.15 640.73,2316.21 644.61,2314.26 648.53,2312.3 652.5,2310.35 656.52,2308.38 660.59,2306.42 664.71,2304.45 668.88,2302.48 673.09,2300.5 677.37,2298.52 681.69,2296.53 686.06,2294.54 690.49,2292.55 694.97,2290.55 699.51,2288.55 704.1,2286.54 708.75,2284.53 713.46,2282.52 718.22,2280.5 723.04,2278.48 727.92,2276.45 732.86,2274.42 737.86,2272.38 742.92,2270.34 748.04,2268.3 753.22,2266.25 758.47,2264.2 763.78,2262.14 769.16,2260.08 774.6,2258.02 780.11,2255.95 785.68,2253.88 791.33,2251.8 797.04,2249.72 802.82,2247.63 808.67,2245.54 814.59,2243.44 820.59,2241.35 826.66,2239.24 832.8,2237.13 839.02,2235.02 845.31,2232.91 851.68,2230.79 858.13,2228.66 864.65,2226.53 871.26,2224.4 877.94,2222.26 884.71,2220.12 891.56,2217.97 898.49,2215.82 905.51,2213.66 912.61,2211.5 919.8,2209.34 927.08,2207.17 934.45,2205 941.9,2202.82 949.45,2200.63 957.09,2198.45 964.82,2196.26 972.65,2194.06 980.57,2191.86 988.59,2189.65 996.7,2187.44 1004.92,2185.23 1013.23,2183.01 1021.65,2180.79 1030.17,2178.56 1038.79,2176.33 1047.52,2174.09 1056.35,2171.85 1065.29,2169.6 1074.34,2167.35 1083.51,2165.1 1092.78,2162.84 1102.16,2160.57 1111.66,2158.3 1121.28,2156.03 1131.01,2153.75 1140.86,2151.47 1150.84,2149.18 1160.93,2146.89 1171.15,2144.59 1181.49,2142.29 1191.95,2139.98 1202.55,2137.67 1213.27,2135.35 1224.13,2133.03 1235.11,2130.7 1246.23,2128.37 1257.49,2126.04 1268.88,2123.7 1280.41,2121.35 1292.09,2119 1303.9,2116.65 1315.86,2114.29 1327.97,2111.92 1340.22,2109.55 1352.62,2107.18 1365.17,2104.8 1377.88,2102.41 1390.74,2100.02 1403.76,2097.63 1416.93,2095.23 1430.27,2092.83 1443.77,2090.42 1457.43,2088.01 1471.26,2085.59 1485.26,2083.16 1499.43,2080.73 1513.77,2078.3 1528.29,2075.86 1542.98,2073.42 1557.85,2070.97 1572.91,2068.52 1588.15,2066.06 1603.57,2063.59 1619.18,2061.13 1634.98,2058.65 1650.98,2056.17 1667.17,2053.69 1683.55,2051.2 1700.14,2048.7 1716.93,2046.2 1733.92,2043.7 1751.12,2041.19 1768.53,2038.68 1786.15,2036.16 1803.99,2033.63 1822.04,2031.1 1840.31,2028.56 1858.81,2026.02 1877.53,2023.48 1896.48,2020.93 1915.67,2018.37 1935.08,2015.81 1954.73,2013.24"/>
<polyline fill="none" stroke="#000" stroke-width="3.1" stroke-linejoin="round" stroke-linecap="round" points="332.09,2687.15 332.22,2685.9 332.34,2684.65 332.47,2683.4 332.59,2682.15 332.72,2680.89 332.85,2679.63 332.99,2678.37 333.12,2677.1 333.26,2675.84 333.39,2674.57 333.53,2673.29 333.67,2672.02 333.82,2670.74 333.96,2669.46 334.11,2668.17 334.26,2666.89 334.41,2665.6 334.56,2664.31 334.72,2663.01 334.87,2661.71 335.03,2660.41 335.19,2659.11 335.35,2657.8 335.52,2656.49 335.69,2655.18 335.86,2653.87 336.03,2652.55 336.2,2651.23 336.38,2649.91 336.56,2648.58 336.74,2647.25 336.92,2645.92 337.11,2644.58 337.29,2643.25 337.48,2641.91 337.68,2640.56 337.87,2639.22 338.07,2637.87 338.27,2636.51 338.47,2635.16 338.68,2633.8 338.89,2632.44 339.1,2631.08 339.31,2629.71 339.53,2628.34 339.75,2626.97 339.97,2625.59 340.2,2624.21 340.42,2622.83 340.65,2621.45 340.89,2620.06 341.13,2618.67 341.37,2617.27 341.61,2615.88 341.86,2614.48 342.11,2613.08 342.36,2611.67 342.62,2610.26 342.88,2608.85 343.14,2607.43 343.4,2606.02 343.67,2604.6 343.95,2603.17 344.23,2601.74 344.51,2600.31 344.79,2598.88 345.08,2597.44 345.37,2596 345.67,2594.56 345.97,2593.12 346.27,2591.67 346.58,2590.22 346.89,2588.76 347.2,2587.3 347.52,2585.84 347.85,2584.38 348.17,2582.91 348.51,2581.44 348.84,2579.96 349.18,2578.49 349.53,2577.01 349.88,2575.52 350.23,2574.04 350.59,2572.55 350.96,2571.05 351.32,2569.56 351.7,2568.06 352.08,2566.55 352.46,2565.05 352.85,2563.54 353.24,2562.03 353.64,2560.51 354.04,2558.99 354.45,2557.47 354.86,2555.94 355.28,2554.41 355.71,2552.88 356.14,2551.35 356.58,2549.81 357.02,2548.26 357.46,2546.72 357.92,2545.17 358.38,2543.62 358.84,2542.06 359.31,2540.5 359.79,2538.94 360.28,2537.37 360.77,2535.8 361.26,2534.23 361.76,2532.66 362.27,2531.08 362.79,2529.49 363.31,2527.91 363.84,2526.32 364.38,2524.73 364.92,2523.13 365.47,2521.53 366.03,2519.93 366.6,2518.32 367.17,2516.71 367.75,2515.09 368.34,2513.48 368.93,2511.86 369.53,2510.23 370.14,2508.6 370.76,2506.97 371.39,2505.34 372.02,2503.7 372.67,2502.06 373.32,2500.41 373.98,2498.76 374.65,2497.11 375.33,2495.45 376.01,2493.8 376.71,2492.13 377.41,2490.46 378.12,2488.79 378.85,2487.12 379.58,2485.44 380.32,2483.76 381.07,2482.08 381.83,2480.39 382.61,2478.7 383.39,2477 384.18,2475.3 384.98,2473.6 385.79,2471.89 386.61,2470.18 387.45,2468.46 388.29,2466.75 389.15,2465.03 390.01,2463.3 390.89,2461.57 391.78,2459.84 392.68,2458.1 393.59,2456.36 394.52,2454.62 395.46,2452.87 396.4,2451.12 397.37,2449.36 398.34,2447.6 399.33,2445.84 400.33,2444.07 401.34,2442.3 402.36,2440.53 403.4,2438.75 404.45,2436.97 405.52,2435.18 406.6,2433.39 407.69,2431.6 408.8,2429.8 409.93,2428 411.06,2426.19 412.22,2424.38 413.38,2422.57 414.57,2420.75 415.76,2418.93 416.98,2417.11 418.21,2415.28 419.45,2413.45 420.71,2411.61 421.99,2409.77 423.29,2407.92 424.6,2406.07 425.93,2404.22 427.27,2402.37 428.64,2400.5 430.02,2398.64 431.42,2396.77 432.84,2394.9 434.27,2393.02 435.73,2391.14 437.2,2389.26 438.69,2387.37 440.21,2385.47 441.74,2383.58 443.29,2381.67 444.86,2379.77 446.46,2377.86 448.07,2375.95 449.71,2374.03 451.36,2372.11 453.04,2370.18 454.74,2368.25 456.46,2366.32 458.21,2364.38 459.97,2362.43 461.76,2360.49 463.58,2358.54 465.41,2356.58 467.27,2354.62 469.16,2352.66 471.07,2350.69 473,2348.72 474.96,2346.74 476.95,2344.76 478.96,2342.77 481,2340.78 483.06,2338.79 485.15,2336.79 487.27,2334.79 489.42,2332.78 491.59,2330.77 493.8,2328.76 496.03,2326.74 498.29,2324.71 500.58,2322.69 502.9,2320.65 505.25,2318.62 507.63,2316.57 510.04,2314.53 512.48,2312.48 514.96,2310.42 517.46,2308.36 520,2306.3 522.58,2304.23 525.18,2302.16 527.82,2300.08 530.5,2298 533.21,2295.91 535.95,2293.82 538.73,2291.73 541.55,2289.63 544.4,2287.52 547.3,2285.42 550.22,2283.3 553.19,2281.18 556.2,2279.06 559.24,2276.93 562.33,2274.8 565.45,2272.67 568.62,2270.53 571.82,2268.38 575.07,2266.23 578.36,2264.08 581.7,2261.92 585.08,2259.75 588.5,2257.58 591.96,2255.41 595.47,2253.23 599.03,2251.05 602.64,2248.86 606.29,2246.67 609.98,2244.47 613.73,2242.27 617.53,2240.06 621.37,2237.85 625.26,2235.64 629.21,2233.42 633.21,2231.19 637.26,2228.96 641.36,2226.73 645.51,2224.49 649.72,2222.24 653.99,2219.99 658.31,2217.74 662.69,2215.48 667.12,2213.21 671.61,2210.94 676.16,2208.67 680.77,2206.39 685.44,2204.11 690.17,2201.82 694.96,2199.52 699.82,2197.22 704.73,2194.92 709.72,2192.61 714.76,2190.3 719.87,2187.98 725.05,2185.66 730.3,2183.33 735.62,2180.99 741,2178.65 746.46,2176.31 751.98,2173.96 757.58,2171.61 763.25,2169.25 769,2166.88 774.82,2164.52 780.71,2162.14 786.68,2159.76 792.74,2157.38 798.86,2154.99 805.07,2152.59 811.36,2150.19 817.74,2147.79 824.19,2145.38 830.73,2142.96 837.36,2140.54 844.07,2138.11 850.87,2135.68 857.76,2133.25 864.73,2130.8 871.8,2128.36 878.96,2125.9 886.22,2123.45 893.56,2120.98 901.01,2118.51 908.55,2116.04 916.19,2113.56 923.93,2111.08 931.77,2108.59 939.71,2106.09 947.76,2103.59 955.91,2101.09 964.17,2098.57 972.53,2096.06 981.01,2093.54 989.59,2091.01 998.29,2088.48 1007.1,2085.94 1016.02,2083.39 1025.06,2080.84 1034.22,2078.29 1043.5,2075.73 1052.9,2073.16 1062.42,2070.59 1072.07,2068.01 1081.84,2065.43 1091.74,2062.84 1101.77,2060.25 1111.93,2057.65 1122.22,2055.04 1132.65,2052.43 1143.21,2049.82 1153.91,2047.19 1164.75,2044.57 1175.73,2041.93 1186.85,2039.29 1198.12,2036.65 1209.54,2034 1221.1,2031.34 1232.82,2028.68 1244.69,2026.01 1256.71,2023.34 1268.89,2020.66 1281.23,2017.97 1293.73,2015.28 1306.39,2012.59 1319.22,2009.88 1332.21,2007.18 1345.38,2004.46 1358.72,2001.74 1372.23,1999.02 1385.91,1996.28 1399.78,1993.55 1413.82,1990.8 1428.05,1988.05 1442.47,1985.3 1457.07,1982.54 1471.86,1979.77 1486.85,1977 1502.03,1974.22 1517.41,1971.43 1532.99,1968.64 1548.77,1965.84 1564.76,1963.04 1580.95,1960.23 1597.36,1957.41 1613.98,1954.59 1630.82,1951.76 1647.88,1948.93 1665.16,1946.09 1682.67,1943.24 1700.4,1940.39 1718.37,1937.53 1736.57,1934.67 1755.01,1931.8 1773.69,1928.92 1792.61,1926.04 1811.78,1923.15 1831.19,1920.25 1850.87,1917.35 1870.79,1914.44 1890.98,1911.53 1911.43,1908.61 1932.15,1905.68 1953.14,1902.75 1974.4,1899.81 1995.94,1896.86"/>
<polyline fill="none" stroke="#000" stroke-width="3.1" stroke-linejoin="round" stroke-linecap="round" points="330.29,3039.19 330.39,3038.47 330.49,3037.76 330.6,3037.04 330.7,3036.32 330.81,3035.6 330.92,3034.88 331.03,3034.15 331.14,3033.42 331.26,3032.69 331.37,3031.96 331.49,3031.22 331.61,3030.49 331.73,3029.75 331.85,3029 331.97,3028.26 332.1,3027.51 332.23,3026.76 332.35,3026.01 332.48,3025.26 332.62,3024.5 332.75,3023.74 332.88,3022.98 333.02,3022.22 333.16,3021.45 333.3,3020.68 333.45,3019.91 333.59,3019.14 333.74,3018.36 333.89,3017.58 334.04,3016.8 334.19,3016.02 334.34,3015.23 334.5,3014.44 334.66,3013.65 334.82,3012.86 334.98,3012.06 335.15,3011.27 335.32,3010.46 335.49,3009.66 335.66,3008.86 335.84,3008.05 336.01,3007.24 336.19,3006.42 336.37,3005.61 336.56,3004.79 336.74,3003.97 336.93,3003.14 337.13,3002.31 337.32,3001.49 337.52,3000.65 337.72,2999.82 337.92,2998.98 338.12,2998.14 338.33,2997.3 338.54,2996.45 338.76,2995.61 338.97,2994.76 339.19,2993.9 339.41,2993.05 339.64,2992.19 339.87,2991.33 340.1,2990.46 340.33,2989.6 340.57,2988.73 340.81,2987.85 341.06,2986.98 341.3,2986.1 341.56,2985.22 341.81,2984.34 342.07,2983.45 342.33,2982.56 342.59,2981.67 342.86,2980.77 343.13,2979.88 343.41,2978.98 343.69,2978.07 343.97,2977.17 344.26,2976.26 344.55,2975.35 344.84,2974.43 345.14,2973.51 345.44,2972.59 345.75,2971.67 346.06,2970.74 346.38,2969.81 346.69,2968.88 347.02,2967.95 347.35,2967.01 347.68,2966.07 348.01,2965.12 348.36,2964.18 348.7,2963.23 349.05,2962.27 349.41,2961.32 349.77,2960.36 350.13,2959.4 350.5,2958.43 350.88,2957.46 351.26,2956.49 351.64,2955.52 352.03,2954.54 352.43,2953.56 352.83,2952.57 353.23,2951.59 353.65,2950.6 354.06,2949.6 354.49,2948.61 354.91,2947.61 355.35,2946.61 355.79,2945.6 356.23,2944.59 356.69,2943.58 357.14,2942.56 357.61,2941.54 358.08,2940.52 358.56,2939.5 359.04,2938.47 359.53,2937.44 360.03,2936.4 360.53,2935.36 361.04,2934.32 361.56,2933.28 362.08,2932.23 362.61,2931.18 363.15,2930.12 363.69,2929.07 364.25,2928 364.81,2926.94 365.37,2925.87 365.95,2924.8 366.53,2923.73 367.12,2922.65 367.72,2921.57 368.33,2920.48 368.94,2919.39 369.57,2918.3 370.2,2917.2 370.84,2916.1 371.49,2915 372.15,2913.9 372.81,2912.79 373.49,2911.67 374.17,2910.56 374.87,2909.44 375.57,2908.31 376.28,2907.19 377,2906.06 377.74,2904.92 378.48,2903.78 379.23,2902.64 379.99,2901.5 380.76,2900.35 381.55,2899.2 382.34,2898.04 383.14,2896.88 383.96,2895.72 384.78,2894.55 385.62,2893.38 386.47,2892.2 387.33,2891.03 388.2,2889.84 389.08,2888.66 389.98,2887.47 390.89,2886.28 391.8,2885.08 392.74,2883.88 393.68,2882.67 394.64,2881.46 395.61,2880.25 396.59,2879.04 397.58,2877.82 398.59,2876.59 399.62,2875.36 400.65,2874.13 401.71,2872.9 402.77,2871.66 403.85,2870.41 404.94,2869.17 406.05,2867.92 407.18,2866.66 408.31,2865.4 409.47,2864.14 410.64,2862.87 411.82,2861.6 413.02,2860.33 414.24,2859.05 415.48,2857.76 416.73,2856.48 417.99,2855.18 419.28,2853.89 420.58,2852.59 421.9,2851.29 423.24,2849.98 424.59,2848.67 425.97,2847.35 427.36,2846.03 428.77,2844.7 430.2,2843.38 431.65,2842.04 433.12,2840.71 434.6,2839.36 436.11,2838.02 437.64,2836.67 439.19,2835.31 440.76,2833.96 442.35,2832.59 443.97,2831.23 445.6,2829.85 447.26,2828.48 448.94,2827.1 450.64,2825.71 452.36,2824.32 454.11,2822.93 455.88,2821.53 457.68,2820.13 459.5,2818.72 461.34,2817.31 463.21,2815.9 465.1,2814.48 467.02,2813.05 468.97,2811.62 470.94,2810.19 472.94,2808.75 474.96,2807.31 477.02,2805.86 479.1,2804.41 481.2,2802.95 483.34,2801.49 485.51,2800.03 487.7,2798.56 489.92,2797.08 492.18,2795.6 494.46,2794.12 496.78,2792.63 499.12,2791.14 501.5,2789.64 503.91,2788.13 506.36,2786.63 508.83,2785.11 511.34,2783.6 513.88,2782.07 516.46,2780.55 519.07,2779.01 521.72,2777.48 524.4,2775.94 527.12,2774.39 529.88,2772.84 532.67,2771.28 535.5,2769.72 538.37,2768.15 541.28,2766.58 544.22,2765 547.21,2763.42 550.23,2761.84 553.3,2760.25 556.41,2758.65 559.56,2757.05 562.75,2755.44 565.99,2753.83 569.27,2752.21 572.59,2750.59 575.96,2748.96 579.37,2747.33 582.83,2745.69 586.34,2744.05 589.89,2742.4 593.5,2740.75 597.15,2739.09 600.85,2737.43 604.6,2735.76 608.4,2734.09 612.25,2732.41 616.15,2730.72 620.1,2729.03 624.11,2727.34 628.18,2725.64 632.29,2723.93 636.47,2722.22 640.7,2720.5 644.98,2718.78 649.33,2717.05 653.73,2715.32 658.19,2713.58 662.72,2711.84 667.3,2710.09 671.94,2708.33 676.65,2706.57 681.42,2704.8 686.26,2703.03 691.16,2701.25 696.13,2699.47 701.16,2697.68 706.26,2695.89 711.43,2694.09 716.67,2692.28 721.98,2690.47 727.36,2688.65 732.82,2686.83 738.35,2685 743.95,2683.16 749.63,2681.32 755.38,2679.48 761.22,2677.62 767.13,2675.77 773.12,2673.9 779.19,2672.03 785.34,2670.16 791.58,2668.27 797.9,2666.39 804.31,2664.49 810.8,2662.59 817.38,2660.69 824.04,2658.78 830.8,2656.86 837.65,2654.93 844.59,2653 851.63,2651.07 858.76,2649.12 865.98,2647.18 873.31,2645.22 880.73,2643.26 888.25,2641.29 895.87,2639.32 903.6,2637.34 911.43,2635.35 919.37,2633.36 927.41,2631.36 935.56,2629.36 943.82,2627.35 952.2,2625.33 960.68,2623.31 969.28,2621.28 978,2619.24 986.83,2617.2 995.78,2615.15 1004.86,2613.09 1014.05,2611.03 1023.37,2608.96 1032.81,2606.88 1042.39,2604.8 1052.09,2602.71 1061.92,2600.61 1071.88,2598.51 1081.98,2596.4 1092.22,2594.29 1102.59,2592.17 1113.1,2590.04 1123.76,2587.9 1134.56,2585.76 1145.5,2583.61 1156.59,2581.45 1167.83,2579.29 1179.22,2577.12 1190.77,2574.94 1202.47,2572.76 1214.33,2570.57 1226.35,2568.37 1238.53,2566.17 1250.88,2563.96 1263.39,2561.74 1276.07,2559.51 1288.92,2557.28 1301.94,2555.04 1315.14,2552.79 1328.52,2550.54 1342.08,2548.28 1355.82,2546.01 1369.75,2543.73 1383.86,2541.45 1398.16,2539.16 1412.66,2536.87 1427.35,2534.56 1442.24,2532.25 1457.33,2529.93 1472.63,2527.6 1488.13,2525.27 1503.84,2522.93 1519.76,2520.58 1535.9,2518.23 1552.25,2515.86 1568.83,2513.49 1585.62,2511.11 1602.65,2508.73 1619.9,2506.33 1637.39,2503.93 1655.11,2501.52 1673.07,2499.11 1691.27,2496.68 1709.72,2494.25 1728.42,2491.81 1747.36,2489.37 1766.57,2486.91 1786.03,2484.45 1805.76,2481.98 1825.75,2479.5 1846.01,2477.01 1866.54,2474.52 1887.35,2472.02 1908.44,2469.51 1929.82,2466.99"/>
</g>
<text x="433.2" y="1991.5" font-size="87.3">(b)</text>
<text transform="translate(104.6 3217) rotate(-90)" font-size="86.95">Acetone adsorption capacity (mg g<tspan font-size="50.5" dy="-48" dx="-1.6">-1</tspan><tspan dy="48" dx="3.1">)</tspan></text>
<text x="1129" y="3491.8" font-size="87.2"><tspan font-style="italic">P</tspan> (kPa)</text>
<g id="b-legend">
<rect x="726.4" y="2767.9" width="1195.8" height="356.8" fill="#fff" stroke="#000" stroke-width="3"/>
<polygon points="808.3,2854.5 837.3,2854.5 837.3,2883.5 808.3,2883.5" fill="#000000" stroke="#000000" stroke-width="3" stroke-linejoin="round"/>
<circle cx="1201.4" cy="2868.6" r="18.1" fill="#ff0000"/>
<polygon points="823.1,2944.97 803.75,2978.47 842.45,2978.47" fill="#0000ff" stroke="#0000ff" stroke-width="3" stroke-linejoin="round"/>
<polygon points="1200.2,2989.83 1180.85,2956.33 1219.55,2956.33" fill="#ff00ff" stroke="#ff00ff" stroke-width="3" stroke-linejoin="round"/>
<polygon points="802.25,3065.9 823,3045.15 843.75,3065.9 823,3086.65" fill="#008000" stroke="#008000" stroke-width="3" stroke-linejoin="round"/>
<line x1="1181.8" y1="3065.5" x2="1320.5" y2="3065.5" stroke="#000" stroke-width="3" stroke-linecap="round"/>
<g font-size="80.0">
<text x="909" y="2890">ZC</text>
<text x="909" y="2988.9">ZC400</text>
<text x="910.5" y="3087.8">AC</text>
<text x="1287.5" y="2890">ZC200)</text>
<text x="1287.5" y="2988.9">ZC600</text>
<text x="1338" y="3087.8">Freundlich model</text>
</g></g>
</g>
</svg>
</body></html>
